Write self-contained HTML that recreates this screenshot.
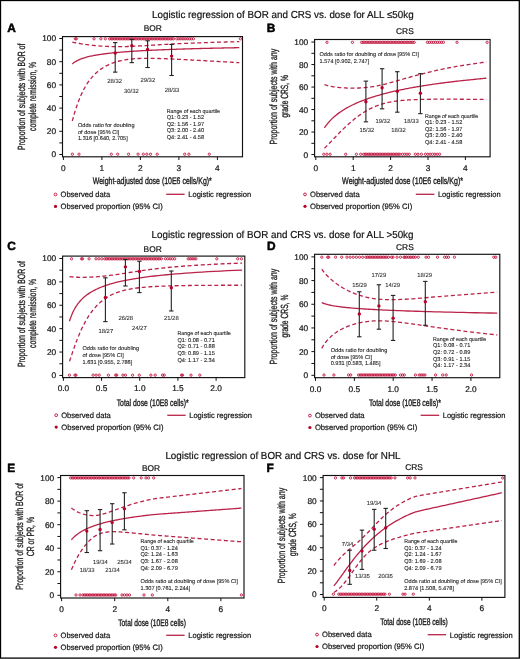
<!DOCTYPE html>
<html><head><meta charset="utf-8"><style>
html,body{margin:0;padding:0;background:#fff;}
#c{position:relative;width:520px;height:659px;overflow:hidden;background:#fff;}
svg{position:absolute;left:0;top:0;font-family:"Liberation Sans", sans-serif;will-change:transform;text-rendering:geometricPrecision;}
</style></head><body><div id="c">
<svg width="520" height="659" viewBox="0 0 520 659">
<rect x="0" y="0" width="520" height="659" fill="#fff"/>
<text x="7.30" y="32.40" font-size="11.9" text-anchor="start" font-weight="bold" fill="#000" stroke="#000" stroke-width="0.5">A</text>
<text x="152.80" y="30.80" font-size="8.4" text-anchor="middle" font-weight="normal" fill="#111" stroke="#111" stroke-width="0.2">BOR</text>
<line x1="59.30" y1="154.50" x2="62.50" y2="154.50" stroke="#111" stroke-width="1.0"/>
<text x="56.10" y="157.45" font-size="8.3" text-anchor="end" font-weight="normal" fill="#111" stroke="#111" stroke-width="0.2">0</text>
<line x1="59.30" y1="142.90" x2="62.50" y2="142.90" stroke="#111" stroke-width="1.0"/>
<line x1="59.30" y1="131.30" x2="62.50" y2="131.30" stroke="#111" stroke-width="1.0"/>
<text x="56.10" y="134.25" font-size="8.3" text-anchor="end" font-weight="normal" fill="#111" stroke="#111" stroke-width="0.2">20</text>
<line x1="59.30" y1="119.70" x2="62.50" y2="119.70" stroke="#111" stroke-width="1.0"/>
<line x1="59.30" y1="108.10" x2="62.50" y2="108.10" stroke="#111" stroke-width="1.0"/>
<text x="56.10" y="111.05" font-size="8.3" text-anchor="end" font-weight="normal" fill="#111" stroke="#111" stroke-width="0.2">40</text>
<line x1="59.30" y1="96.50" x2="62.50" y2="96.50" stroke="#111" stroke-width="1.0"/>
<line x1="59.30" y1="84.90" x2="62.50" y2="84.90" stroke="#111" stroke-width="1.0"/>
<text x="56.10" y="87.85" font-size="8.3" text-anchor="end" font-weight="normal" fill="#111" stroke="#111" stroke-width="0.2">60</text>
<line x1="59.30" y1="73.30" x2="62.50" y2="73.30" stroke="#111" stroke-width="1.0"/>
<line x1="59.30" y1="61.70" x2="62.50" y2="61.70" stroke="#111" stroke-width="1.0"/>
<text x="56.10" y="64.65" font-size="8.3" text-anchor="end" font-weight="normal" fill="#111" stroke="#111" stroke-width="0.2">80</text>
<line x1="59.30" y1="50.10" x2="62.50" y2="50.10" stroke="#111" stroke-width="1.0"/>
<line x1="59.30" y1="38.50" x2="62.50" y2="38.50" stroke="#111" stroke-width="1.0"/>
<text x="56.10" y="41.45" font-size="8.3" text-anchor="end" font-weight="normal" fill="#111" stroke="#111" stroke-width="0.2">100</text>
<line x1="63.40" y1="156.80" x2="63.40" y2="160.00" stroke="#111" stroke-width="1.0"/>
<text x="63.40" y="170.60" font-size="8.3" text-anchor="middle" font-weight="normal" fill="#111" stroke="#111" stroke-width="0.2">0</text>
<line x1="101.90" y1="156.80" x2="101.90" y2="160.00" stroke="#111" stroke-width="1.0"/>
<text x="101.90" y="170.60" font-size="8.3" text-anchor="middle" font-weight="normal" fill="#111" stroke="#111" stroke-width="0.2">1</text>
<line x1="140.40" y1="156.80" x2="140.40" y2="160.00" stroke="#111" stroke-width="1.0"/>
<text x="140.40" y="170.60" font-size="8.3" text-anchor="middle" font-weight="normal" fill="#111" stroke="#111" stroke-width="0.2">2</text>
<line x1="178.90" y1="156.80" x2="178.90" y2="160.00" stroke="#111" stroke-width="1.0"/>
<text x="178.90" y="170.60" font-size="8.3" text-anchor="middle" font-weight="normal" fill="#111" stroke="#111" stroke-width="0.2">3</text>
<line x1="217.40" y1="156.80" x2="217.40" y2="160.00" stroke="#111" stroke-width="1.0"/>
<text x="217.40" y="170.60" font-size="8.3" text-anchor="middle" font-weight="normal" fill="#111" stroke="#111" stroke-width="0.2">4</text>
<rect x="62.50" y="36.60" width="180.00" height="120.20" fill="none" stroke="#111" stroke-width="1.15"/>
<text transform="translate(24.60,96.80) rotate(-90)" x="0" y="0" font-size="10.4" text-anchor="middle" fill="#1a1a1a" stroke="#1a1a1a" stroke-width="0.3" textLength="106.40" lengthAdjust="spacingAndGlyphs">Proportion of subjects with BOR of</text>
<text transform="translate(36.20,96.40) rotate(-90)" x="0" y="0" font-size="10.4" text-anchor="middle" fill="#1a1a1a" stroke="#1a1a1a" stroke-width="0.3" textLength="69.20" lengthAdjust="spacingAndGlyphs">complete remission, %</text>
<text x="152.30" y="184.40" font-size="9.6" text-anchor="middle" font-weight="normal" fill="#1a1a1a" textLength="119.00" lengthAdjust="spacingAndGlyphs" stroke="#1a1a1a" stroke-width="0.35">Weight-adjusted dose (10E6 cells/Kg)*</text>
<circle cx="75.30" cy="38.80" r="1.15" fill="none" stroke="#BF0C38" stroke-width="0.85"/>
<circle cx="76.30" cy="38.80" r="1.15" fill="none" stroke="#BF0C38" stroke-width="0.85"/>
<circle cx="94.00" cy="38.80" r="1.15" fill="none" stroke="#BF0C38" stroke-width="0.85"/>
<circle cx="100.90" cy="38.80" r="1.15" fill="none" stroke="#BF0C38" stroke-width="0.85"/>
<circle cx="105.30" cy="38.80" r="1.15" fill="none" stroke="#BF0C38" stroke-width="0.85"/>
<circle cx="109.60" cy="38.80" r="1.15" fill="none" stroke="#BF0C38" stroke-width="0.85"/>
<circle cx="111.20" cy="38.80" r="1.15" fill="none" stroke="#BF0C38" stroke-width="0.85"/>
<circle cx="112.79" cy="38.80" r="1.15" fill="none" stroke="#BF0C38" stroke-width="0.85"/>
<circle cx="114.39" cy="38.80" r="1.15" fill="none" stroke="#BF0C38" stroke-width="0.85"/>
<circle cx="115.99" cy="38.80" r="1.15" fill="none" stroke="#BF0C38" stroke-width="0.85"/>
<circle cx="117.59" cy="38.80" r="1.15" fill="none" stroke="#BF0C38" stroke-width="0.85"/>
<circle cx="119.19" cy="38.80" r="1.15" fill="none" stroke="#BF0C38" stroke-width="0.85"/>
<circle cx="120.78" cy="38.80" r="1.15" fill="none" stroke="#BF0C38" stroke-width="0.85"/>
<circle cx="122.38" cy="38.80" r="1.15" fill="none" stroke="#BF0C38" stroke-width="0.85"/>
<circle cx="123.98" cy="38.80" r="1.15" fill="none" stroke="#BF0C38" stroke-width="0.85"/>
<circle cx="125.57" cy="38.80" r="1.15" fill="none" stroke="#BF0C38" stroke-width="0.85"/>
<circle cx="127.17" cy="38.80" r="1.15" fill="none" stroke="#BF0C38" stroke-width="0.85"/>
<circle cx="128.77" cy="38.80" r="1.15" fill="none" stroke="#BF0C38" stroke-width="0.85"/>
<circle cx="130.37" cy="38.80" r="1.15" fill="none" stroke="#BF0C38" stroke-width="0.85"/>
<circle cx="131.97" cy="38.80" r="1.15" fill="none" stroke="#BF0C38" stroke-width="0.85"/>
<circle cx="133.56" cy="38.80" r="1.15" fill="none" stroke="#BF0C38" stroke-width="0.85"/>
<circle cx="135.16" cy="38.80" r="1.15" fill="none" stroke="#BF0C38" stroke-width="0.85"/>
<circle cx="136.76" cy="38.80" r="1.15" fill="none" stroke="#BF0C38" stroke-width="0.85"/>
<circle cx="138.35" cy="38.80" r="1.15" fill="none" stroke="#BF0C38" stroke-width="0.85"/>
<circle cx="139.95" cy="38.80" r="1.15" fill="none" stroke="#BF0C38" stroke-width="0.85"/>
<circle cx="141.55" cy="38.80" r="1.15" fill="none" stroke="#BF0C38" stroke-width="0.85"/>
<circle cx="143.15" cy="38.80" r="1.15" fill="none" stroke="#BF0C38" stroke-width="0.85"/>
<circle cx="144.75" cy="38.80" r="1.15" fill="none" stroke="#BF0C38" stroke-width="0.85"/>
<circle cx="146.34" cy="38.80" r="1.15" fill="none" stroke="#BF0C38" stroke-width="0.85"/>
<circle cx="147.94" cy="38.80" r="1.15" fill="none" stroke="#BF0C38" stroke-width="0.85"/>
<circle cx="149.54" cy="38.80" r="1.15" fill="none" stroke="#BF0C38" stroke-width="0.85"/>
<circle cx="151.13" cy="38.80" r="1.15" fill="none" stroke="#BF0C38" stroke-width="0.85"/>
<circle cx="152.73" cy="38.80" r="1.15" fill="none" stroke="#BF0C38" stroke-width="0.85"/>
<circle cx="154.33" cy="38.80" r="1.15" fill="none" stroke="#BF0C38" stroke-width="0.85"/>
<circle cx="155.93" cy="38.80" r="1.15" fill="none" stroke="#BF0C38" stroke-width="0.85"/>
<circle cx="157.53" cy="38.80" r="1.15" fill="none" stroke="#BF0C38" stroke-width="0.85"/>
<circle cx="159.12" cy="38.80" r="1.15" fill="none" stroke="#BF0C38" stroke-width="0.85"/>
<circle cx="160.72" cy="38.80" r="1.15" fill="none" stroke="#BF0C38" stroke-width="0.85"/>
<circle cx="162.32" cy="38.80" r="1.15" fill="none" stroke="#BF0C38" stroke-width="0.85"/>
<circle cx="163.92" cy="38.80" r="1.15" fill="none" stroke="#BF0C38" stroke-width="0.85"/>
<circle cx="165.51" cy="38.80" r="1.15" fill="none" stroke="#BF0C38" stroke-width="0.85"/>
<circle cx="167.11" cy="38.80" r="1.15" fill="none" stroke="#BF0C38" stroke-width="0.85"/>
<circle cx="168.71" cy="38.80" r="1.15" fill="none" stroke="#BF0C38" stroke-width="0.85"/>
<circle cx="170.31" cy="38.80" r="1.15" fill="none" stroke="#BF0C38" stroke-width="0.85"/>
<circle cx="171.90" cy="38.80" r="1.15" fill="none" stroke="#BF0C38" stroke-width="0.85"/>
<circle cx="173.50" cy="38.80" r="1.15" fill="none" stroke="#BF0C38" stroke-width="0.85"/>
<circle cx="176.80" cy="38.80" r="1.15" fill="none" stroke="#BF0C38" stroke-width="0.85"/>
<circle cx="178.88" cy="38.80" r="1.15" fill="none" stroke="#BF0C38" stroke-width="0.85"/>
<circle cx="180.95" cy="38.80" r="1.15" fill="none" stroke="#BF0C38" stroke-width="0.85"/>
<circle cx="183.03" cy="38.80" r="1.15" fill="none" stroke="#BF0C38" stroke-width="0.85"/>
<circle cx="185.10" cy="38.80" r="1.15" fill="none" stroke="#BF0C38" stroke-width="0.85"/>
<circle cx="187.18" cy="38.80" r="1.15" fill="none" stroke="#BF0C38" stroke-width="0.85"/>
<circle cx="189.25" cy="38.80" r="1.15" fill="none" stroke="#BF0C38" stroke-width="0.85"/>
<circle cx="191.33" cy="38.80" r="1.15" fill="none" stroke="#BF0C38" stroke-width="0.85"/>
<circle cx="193.40" cy="38.80" r="1.15" fill="none" stroke="#BF0C38" stroke-width="0.85"/>
<circle cx="240.40" cy="38.80" r="1.15" fill="none" stroke="#BF0C38" stroke-width="0.85"/>
<circle cx="72.40" cy="154.20" r="1.15" fill="none" stroke="#BF0C38" stroke-width="0.85"/>
<circle cx="79.00" cy="154.20" r="1.15" fill="none" stroke="#BF0C38" stroke-width="0.85"/>
<circle cx="111.30" cy="154.20" r="1.15" fill="none" stroke="#BF0C38" stroke-width="0.85"/>
<circle cx="117.70" cy="154.20" r="1.15" fill="none" stroke="#BF0C38" stroke-width="0.85"/>
<circle cx="128.60" cy="154.20" r="1.15" fill="none" stroke="#BF0C38" stroke-width="0.85"/>
<circle cx="138.10" cy="154.20" r="1.15" fill="none" stroke="#BF0C38" stroke-width="0.85"/>
<circle cx="143.30" cy="154.20" r="1.15" fill="none" stroke="#BF0C38" stroke-width="0.85"/>
<circle cx="146.80" cy="154.20" r="1.15" fill="none" stroke="#BF0C38" stroke-width="0.85"/>
<circle cx="150.50" cy="154.20" r="1.15" fill="none" stroke="#BF0C38" stroke-width="0.85"/>
<circle cx="157.20" cy="154.20" r="1.15" fill="none" stroke="#BF0C38" stroke-width="0.85"/>
<circle cx="184.70" cy="154.20" r="1.15" fill="none" stroke="#BF0C38" stroke-width="0.85"/>
<circle cx="188.90" cy="154.20" r="1.15" fill="none" stroke="#BF0C38" stroke-width="0.85"/>
<circle cx="209.30" cy="154.20" r="1.15" fill="none" stroke="#BF0C38" stroke-width="0.85"/>
<path d="M72.3,63.92 L73.3,63.08 L74.3,62.35 L75.3,61.69 L76.3,61.10 L77.3,60.56 L78.3,60.07 L79.3,59.62 L80.3,59.21 L81.3,58.82 L82.3,58.46 L83.3,58.12 L84.3,57.81 L85.3,57.51 L86.3,57.23 L87.3,56.96 L88.3,56.71 L89.3,56.47 L90.3,56.24 L91.3,56.03 L92.3,55.82 L93.3,55.62 L94.3,55.43 L95.3,55.25 L96.3,55.07 L97.3,54.91 L98.3,54.74 L99.3,54.59 L100.3,54.44 L101.3,54.29 L102.3,54.15 L103.3,54.01 L104.3,53.88 L105.3,53.75 L106.3,53.63 L107.3,53.51 L108.3,53.39 L109.3,53.28 L110.3,53.17 L111.3,53.06 L112.3,52.96 L113.3,52.86 L114.3,52.76 L115.3,52.66 L116.3,52.57 L117.3,52.48 L118.3,52.39 L119.3,52.30 L120.3,52.21 L121.3,52.13 L122.3,52.05 L123.3,51.97 L124.3,51.89 L125.3,51.81 L126.3,51.74 L127.3,51.66 L128.3,51.59 L129.3,51.52 L130.3,51.45 L131.3,51.39 L132.3,51.32 L133.3,51.25 L134.3,51.19 L135.3,51.13 L136.3,51.07 L137.3,51.01 L138.3,50.95 L139.3,50.89 L140.3,50.83 L141.3,50.77 L142.3,50.72 L143.3,50.66 L144.3,50.61 L145.3,50.56 L146.3,50.50 L147.3,50.45 L148.3,50.40 L149.3,50.35 L150.3,50.30 L151.3,50.26 L152.3,50.21 L153.3,50.16 L154.3,50.12 L155.3,50.07 L156.3,50.03 L157.3,49.98 L158.3,49.94 L159.3,49.90 L160.3,49.85 L161.3,49.81 L162.3,49.77 L163.3,49.73 L164.3,49.69 L165.3,49.65 L166.3,49.61 L167.3,49.57 L168.3,49.53 L169.3,49.50 L170.3,49.46 L171.3,49.42 L172.3,49.39 L173.3,49.35 L174.3,49.32 L175.3,49.28 L176.3,49.25 L177.3,49.21 L178.3,49.18 L179.3,49.15 L180.3,49.11 L181.3,49.08 L182.3,49.05 L183.3,49.02 L184.3,48.98 L185.3,48.95 L186.3,48.92 L187.3,48.89 L188.3,48.86 L189.3,48.83 L190.3,48.80 L191.3,48.77 L192.3,48.74 L193.3,48.72 L194.3,48.69 L195.3,48.66 L196.3,48.63 L197.3,48.61 L198.3,48.58 L199.3,48.55 L200.3,48.52 L201.3,48.50 L202.3,48.47 L203.3,48.45 L204.3,48.42 L205.3,48.40 L206.3,48.37 L207.3,48.35 L208.3,48.32 L209.3,48.30 L210.3,48.27 L211.3,48.25 L212.3,48.23 L213.3,48.21 L214.3,48.18 L215.3,48.16 L216.3,48.14 L217.3,48.12 L218.3,48.10 L219.3,48.08 L220.3,48.06 L221.3,48.03 L222.3,48.01 L223.3,47.99 L224.3,47.97 L225.3,47.95 L226.3,47.93 L227.3,47.91 L228.3,47.88 L229.3,47.86 L230.3,47.84 L231.3,47.82 L232.3,47.80 L233.3,47.78 L234.3,47.76 L235.3,47.73 L236.3,47.71 L237.3,47.69 L238.3,47.67 L239.3,47.65" fill="none" stroke="#BA2349" stroke-width="1.3"/>
<path d="M72.3,42.10 L73.3,42.33 L74.3,42.55 L75.3,42.76 L76.3,42.96 L77.3,43.15 L78.3,43.33 L79.3,43.51 L80.3,43.68 L81.3,43.85 L82.3,44.00 L83.3,44.16 L84.3,44.30 L85.3,44.45 L86.3,44.58 L87.3,44.71 L88.3,44.84 L89.3,44.96 L90.3,45.08 L91.3,45.19 L92.3,45.30 L93.3,45.41 L94.3,45.51 L95.3,45.61 L96.3,45.70 L97.3,45.79 L98.3,45.87 L99.3,45.95 L100.3,46.03 L101.3,46.10 L102.3,46.16 L103.3,46.23 L104.3,46.29 L105.3,46.34 L106.3,46.39 L107.3,46.44 L108.3,46.48 L109.3,46.52 L110.3,46.55 L111.3,46.58 L112.3,46.61 L113.3,46.63 L114.3,46.65 L115.3,46.66 L116.3,46.67 L117.3,46.67 L118.3,46.67 L119.3,46.67 L120.3,46.66 L121.3,46.65 L122.3,46.64 L123.3,46.62 L124.3,46.60 L125.3,46.57 L126.3,46.54 L127.3,46.51 L128.3,46.48 L129.3,46.44 L130.3,46.40 L131.3,46.36 L132.3,46.31 L133.3,46.27 L134.3,46.22 L135.3,46.17 L136.3,46.12 L137.3,46.07 L138.3,46.01 L139.3,45.96 L140.3,45.90 L141.3,45.84 L142.3,45.78 L143.3,45.72 L144.3,45.66 L145.3,45.60 L146.3,45.54 L147.3,45.48 L148.3,45.42 L149.3,45.36 L150.3,45.30 L151.3,45.23 L152.3,45.17 L153.3,45.11 L154.3,45.05 L155.3,44.99 L156.3,44.93 L157.3,44.87 L158.3,44.81 L159.3,44.75 L160.3,44.69 L161.3,44.63 L162.3,44.57 L163.3,44.51 L164.3,44.46 L165.3,44.40 L166.3,44.34 L167.3,44.29 L168.3,44.23 L169.3,44.18 L170.3,44.12 L171.3,44.07 L172.3,44.02 L173.3,43.97 L174.3,43.91 L175.3,43.86 L176.3,43.81 L177.3,43.76 L178.3,43.71 L179.3,43.66 L180.3,43.62 L181.3,43.57 L182.3,43.52 L183.3,43.48 L184.3,43.43 L185.3,43.39 L186.3,43.34 L187.3,43.30 L188.3,43.25 L189.3,43.21 L190.3,43.17 L191.3,43.13 L192.3,43.09 L193.3,43.05 L194.3,43.01 L195.3,42.97 L196.3,42.93 L197.3,42.89 L198.3,42.85 L199.3,42.82 L200.3,42.78 L201.3,42.74 L202.3,42.71 L203.3,42.67 L204.3,42.64 L205.3,42.60 L206.3,42.57 L207.3,42.54 L208.3,42.50 L209.3,42.47 L210.3,42.44 L211.3,42.41 L212.3,42.38 L213.3,42.35 L214.3,42.33 L215.3,42.30 L216.3,42.27 L217.3,42.24 L218.3,42.22 L219.3,42.19 L220.3,42.16 L221.3,42.13 L222.3,42.11 L223.3,42.08 L224.3,42.05 L225.3,42.02 L226.3,42.00 L227.3,41.97 L228.3,41.94 L229.3,41.92 L230.3,41.89 L231.3,41.86 L232.3,41.83 L233.3,41.81 L234.3,41.78 L235.3,41.75 L236.3,41.73 L237.3,41.70 L238.3,41.67 L239.3,41.64" fill="none" stroke="#BA2349" stroke-width="1.3" stroke-dasharray="4.0,2.6"/>
<path d="M72.3,120.96 L73.3,117.30 L74.3,113.82 L75.3,110.54 L76.3,107.44 L77.3,104.52 L78.3,101.78 L79.3,99.20 L80.3,96.78 L81.3,94.50 L82.3,92.38 L83.3,90.36 L84.3,88.48 L85.3,86.71 L86.3,85.04 L87.3,83.47 L88.3,81.99 L89.3,80.60 L90.3,79.29 L91.3,78.05 L92.3,76.88 L93.3,75.77 L94.3,74.73 L95.3,73.74 L96.3,72.81 L97.3,71.93 L98.3,71.09 L99.3,70.30 L100.3,69.55 L101.3,68.85 L102.3,68.17 L103.3,67.54 L104.3,66.94 L105.3,66.37 L106.3,65.82 L107.3,65.32 L108.3,64.83 L109.3,64.37 L110.3,63.95 L111.3,63.53 L112.3,63.15 L113.3,62.79 L114.3,62.44 L115.3,62.12 L116.3,61.81 L117.3,61.53 L118.3,61.25 L119.3,61.00 L120.3,60.76 L121.3,60.54 L122.3,60.33 L123.3,60.14 L124.3,59.95 L125.3,59.79 L126.3,59.63 L127.3,59.49 L128.3,59.36 L129.3,59.23 L130.3,59.12 L131.3,59.02 L132.3,58.93 L133.3,58.84 L134.3,58.76 L135.3,58.69 L136.3,58.63 L137.3,58.57 L138.3,58.52 L139.3,58.48 L140.3,58.45 L141.3,58.41 L142.3,58.39 L143.3,58.37 L144.3,58.35 L145.3,58.34 L146.3,58.33 L147.3,58.32 L148.3,58.33 L149.3,58.33 L150.3,58.33 L151.3,58.34 L152.3,58.36 L153.3,58.37 L154.3,58.39 L155.3,58.41 L156.3,58.43 L157.3,58.46 L158.3,58.48 L159.3,58.51 L160.3,58.54 L161.3,58.57 L162.3,58.61 L163.3,58.64 L164.3,58.68 L165.3,58.72 L166.3,58.76 L167.3,58.80 L168.3,58.84 L169.3,58.88 L170.3,58.92 L171.3,58.97 L172.3,59.01 L173.3,59.06 L174.3,59.10 L175.3,59.15 L176.3,59.20 L177.3,59.25 L178.3,59.30 L179.3,59.35 L180.3,59.40 L181.3,59.45 L182.3,59.50 L183.3,59.55 L184.3,59.61 L185.3,59.66 L186.3,59.71 L187.3,59.76 L188.3,59.82 L189.3,59.87 L190.3,59.93 L191.3,59.98 L192.3,60.03 L193.3,60.09 L194.3,60.15 L195.3,60.20 L196.3,60.26 L197.3,60.31 L198.3,60.37 L199.3,60.42 L200.3,60.48 L201.3,60.53 L202.3,60.59 L203.3,60.65 L204.3,60.70 L205.3,60.76 L206.3,60.81 L207.3,60.87 L208.3,60.93 L209.3,60.98 L210.3,61.04 L211.3,61.10 L212.3,61.15 L213.3,61.21 L214.3,61.26 L215.3,61.32 L216.3,61.38 L217.3,61.43 L218.3,61.49 L219.3,61.54 L220.3,61.60 L221.3,61.66 L222.3,61.71 L223.3,61.77 L224.3,61.82 L225.3,61.88 L226.3,61.94 L227.3,61.99 L228.3,62.05 L229.3,62.10 L230.3,62.16 L231.3,62.22 L232.3,62.27 L233.3,62.33 L234.3,62.38 L235.3,62.44 L236.3,62.50 L237.3,62.55 L238.3,62.61 L239.3,62.67" fill="none" stroke="#BA2349" stroke-width="1.3" stroke-dasharray="4.0,2.6"/>
<line x1="115.20" y1="42.58" x2="115.20" y2="72.13" stroke="#222" stroke-width="1.1"/>
<line x1="113.00" y1="42.58" x2="117.40" y2="42.58" stroke="#222" stroke-width="1.1"/>
<line x1="113.00" y1="72.13" x2="117.40" y2="72.13" stroke="#222" stroke-width="1.1"/>
<circle cx="115.20" cy="53.00" r="1.7" fill="#B8002A"/>
<line x1="131.80" y1="39.39" x2="131.80" y2="62.64" stroke="#222" stroke-width="1.1"/>
<line x1="129.60" y1="39.39" x2="134.00" y2="39.39" stroke="#222" stroke-width="1.1"/>
<line x1="129.60" y1="62.64" x2="134.00" y2="62.64" stroke="#222" stroke-width="1.1"/>
<circle cx="131.80" cy="45.75" r="1.7" fill="#B8002A"/>
<line x1="147.60" y1="40.79" x2="147.60" y2="67.53" stroke="#222" stroke-width="1.1"/>
<line x1="145.40" y1="40.79" x2="149.80" y2="40.79" stroke="#222" stroke-width="1.1"/>
<line x1="145.40" y1="67.53" x2="149.80" y2="67.53" stroke="#222" stroke-width="1.1"/>
<circle cx="147.60" cy="49.38" r="1.7" fill="#B8002A"/>
<line x1="171.60" y1="44.43" x2="171.60" y2="75.50" stroke="#222" stroke-width="1.1"/>
<line x1="169.40" y1="44.43" x2="173.80" y2="44.43" stroke="#222" stroke-width="1.1"/>
<line x1="169.40" y1="75.50" x2="173.80" y2="75.50" stroke="#222" stroke-width="1.1"/>
<circle cx="171.60" cy="56.08" r="1.7" fill="#B8002A"/>
<text x="114.70" y="83.30" font-size="5.9" text-anchor="middle" font-weight="normal" fill="#2a2a2a" stroke="#2a2a2a" stroke-width="0.08">28/32</text>
<text x="131.40" y="93.10" font-size="5.9" text-anchor="middle" font-weight="normal" fill="#2a2a2a" stroke="#2a2a2a" stroke-width="0.08">30/32</text>
<text x="147.80" y="81.70" font-size="5.9" text-anchor="middle" font-weight="normal" fill="#2a2a2a" stroke="#2a2a2a" stroke-width="0.08">29/32</text>
<text x="172.00" y="92.10" font-size="5.9" text-anchor="middle" font-weight="normal" fill="#2a2a2a" stroke="#2a2a2a" stroke-width="0.08">28/33</text>
<text x="78.00" y="127.40" font-size="5.6" text-anchor="start" font-weight="normal" fill="#222" stroke="#222" stroke-width="0.1">Odds ratio for doubling</text>
<text x="78.00" y="133.90" font-size="5.6" text-anchor="start" font-weight="normal" fill="#222" stroke="#222" stroke-width="0.1">of dose [95% CI]</text>
<text x="78.00" y="140.40" font-size="5.6" text-anchor="start" font-weight="normal" fill="#222" stroke="#222" stroke-width="0.1">1.316 [0.640, 2.705]</text>
<text x="166.70" y="112.60" font-size="5.6" text-anchor="start" font-weight="normal" fill="#222" textLength="53.30" lengthAdjust="spacingAndGlyphs" stroke="#222" stroke-width="0.1">Range of each quartile</text>
<text x="166.70" y="119.20" font-size="5.6" text-anchor="start" font-weight="normal" fill="#222" stroke="#222" stroke-width="0.1">Q1: 0.23 - 1.52</text>
<text x="166.70" y="125.80" font-size="5.6" text-anchor="start" font-weight="normal" fill="#222" stroke="#222" stroke-width="0.1">Q2: 1.56 - 1.97</text>
<text x="166.70" y="132.40" font-size="5.6" text-anchor="start" font-weight="normal" fill="#222" stroke="#222" stroke-width="0.1">Q3: 2.00 - 2.40</text>
<text x="166.70" y="139.00" font-size="5.6" text-anchor="start" font-weight="normal" fill="#222" stroke="#222" stroke-width="0.1">Q4: 2.41 - 4.58</text>
<circle cx="55.50" cy="194.50" r="1.4" fill="none" stroke="#BF0C38" stroke-width="0.9"/>
<text x="60.50" y="197.30" font-size="7.8" text-anchor="start" font-weight="normal" fill="#111" textLength="49.60" lengthAdjust="spacingAndGlyphs" stroke="#111" stroke-width="0.2">Observed data</text>
<circle cx="55.50" cy="206.40" r="1.6" fill="#B8002A"/>
<text x="60.50" y="209.20" font-size="7.8" text-anchor="start" font-weight="normal" fill="#111" textLength="102.30" lengthAdjust="spacingAndGlyphs" stroke="#111" stroke-width="0.2">Observed proportion (95% CI)</text>
<line x1="166.20" y1="194.30" x2="184.60" y2="194.30" stroke="#BA2349" stroke-width="1.3"/>
<text x="188.30" y="197.10" font-size="7.8" text-anchor="start" font-weight="normal" fill="#111" textLength="62.80" lengthAdjust="spacingAndGlyphs" stroke="#111" stroke-width="0.2">Logistic regression</text>
<text x="266.80" y="32.40" font-size="11.9" text-anchor="start" font-weight="bold" fill="#000" stroke="#000" stroke-width="0.5">B</text>
<text x="404.90" y="34.15" font-size="8.4" text-anchor="middle" font-weight="normal" fill="#111" stroke="#111" stroke-width="0.2">CRS</text>
<line x1="311.40" y1="154.55" x2="314.60" y2="154.55" stroke="#111" stroke-width="1.0"/>
<text x="308.20" y="157.50" font-size="8.3" text-anchor="end" font-weight="normal" fill="#111" stroke="#111" stroke-width="0.2">0</text>
<line x1="311.40" y1="143.30" x2="314.60" y2="143.30" stroke="#111" stroke-width="1.0"/>
<line x1="311.40" y1="132.05" x2="314.60" y2="132.05" stroke="#111" stroke-width="1.0"/>
<text x="308.20" y="135.00" font-size="8.3" text-anchor="end" font-weight="normal" fill="#111" stroke="#111" stroke-width="0.2">20</text>
<line x1="311.40" y1="120.80" x2="314.60" y2="120.80" stroke="#111" stroke-width="1.0"/>
<line x1="311.40" y1="109.55" x2="314.60" y2="109.55" stroke="#111" stroke-width="1.0"/>
<text x="308.20" y="112.50" font-size="8.3" text-anchor="end" font-weight="normal" fill="#111" stroke="#111" stroke-width="0.2">40</text>
<line x1="311.40" y1="98.30" x2="314.60" y2="98.30" stroke="#111" stroke-width="1.0"/>
<line x1="311.40" y1="87.05" x2="314.60" y2="87.05" stroke="#111" stroke-width="1.0"/>
<text x="308.20" y="90.00" font-size="8.3" text-anchor="end" font-weight="normal" fill="#111" stroke="#111" stroke-width="0.2">60</text>
<line x1="311.40" y1="75.80" x2="314.60" y2="75.80" stroke="#111" stroke-width="1.0"/>
<line x1="311.40" y1="64.55" x2="314.60" y2="64.55" stroke="#111" stroke-width="1.0"/>
<text x="308.20" y="67.50" font-size="8.3" text-anchor="end" font-weight="normal" fill="#111" stroke="#111" stroke-width="0.2">80</text>
<line x1="311.40" y1="53.30" x2="314.60" y2="53.30" stroke="#111" stroke-width="1.0"/>
<line x1="311.40" y1="42.05" x2="314.60" y2="42.05" stroke="#111" stroke-width="1.0"/>
<text x="308.20" y="45.00" font-size="8.3" text-anchor="end" font-weight="normal" fill="#111" stroke="#111" stroke-width="0.2">100</text>
<line x1="315.80" y1="156.80" x2="315.80" y2="160.00" stroke="#111" stroke-width="1.0"/>
<text x="315.80" y="170.60" font-size="8.3" text-anchor="middle" font-weight="normal" fill="#111" stroke="#111" stroke-width="0.2">0</text>
<line x1="353.20" y1="156.80" x2="353.20" y2="160.00" stroke="#111" stroke-width="1.0"/>
<text x="353.20" y="170.60" font-size="8.3" text-anchor="middle" font-weight="normal" fill="#111" stroke="#111" stroke-width="0.2">1</text>
<line x1="390.60" y1="156.80" x2="390.60" y2="160.00" stroke="#111" stroke-width="1.0"/>
<text x="390.60" y="170.60" font-size="8.3" text-anchor="middle" font-weight="normal" fill="#111" stroke="#111" stroke-width="0.2">2</text>
<line x1="428.00" y1="156.80" x2="428.00" y2="160.00" stroke="#111" stroke-width="1.0"/>
<text x="428.00" y="170.60" font-size="8.3" text-anchor="middle" font-weight="normal" fill="#111" stroke="#111" stroke-width="0.2">3</text>
<line x1="465.40" y1="156.80" x2="465.40" y2="160.00" stroke="#111" stroke-width="1.0"/>
<text x="465.40" y="170.60" font-size="8.3" text-anchor="middle" font-weight="normal" fill="#111" stroke="#111" stroke-width="0.2">4</text>
<rect x="314.60" y="39.50" width="175.50" height="117.30" fill="none" stroke="#111" stroke-width="1.15"/>
<text transform="translate(276.70,96.60) rotate(-90)" x="0" y="0" font-size="10.4" text-anchor="middle" fill="#1a1a1a" stroke="#1a1a1a" stroke-width="0.3" textLength="95.60" lengthAdjust="spacingAndGlyphs">Proportion of subjects with any</text>
<text transform="translate(287.70,96.40) rotate(-90)" x="0" y="0" font-size="10.4" text-anchor="middle" fill="#1a1a1a" stroke="#1a1a1a" stroke-width="0.3" textLength="42.40" lengthAdjust="spacingAndGlyphs">grade CRS, %</text>
<text x="402.60" y="184.20" font-size="9.6" text-anchor="middle" font-weight="normal" fill="#1a1a1a" textLength="121.00" lengthAdjust="spacingAndGlyphs" stroke="#1a1a1a" stroke-width="0.35">Weight-adjusted dose (10E6 cells/Kg)*</text>
<circle cx="327.00" cy="42.35" r="1.15" fill="none" stroke="#BF0C38" stroke-width="0.85"/>
<circle cx="352.40" cy="42.35" r="1.15" fill="none" stroke="#BF0C38" stroke-width="0.85"/>
<circle cx="361.60" cy="42.35" r="1.15" fill="none" stroke="#BF0C38" stroke-width="0.85"/>
<circle cx="363.19" cy="42.35" r="1.15" fill="none" stroke="#BF0C38" stroke-width="0.85"/>
<circle cx="364.79" cy="42.35" r="1.15" fill="none" stroke="#BF0C38" stroke-width="0.85"/>
<circle cx="366.38" cy="42.35" r="1.15" fill="none" stroke="#BF0C38" stroke-width="0.85"/>
<circle cx="367.98" cy="42.35" r="1.15" fill="none" stroke="#BF0C38" stroke-width="0.85"/>
<circle cx="369.57" cy="42.35" r="1.15" fill="none" stroke="#BF0C38" stroke-width="0.85"/>
<circle cx="371.16" cy="42.35" r="1.15" fill="none" stroke="#BF0C38" stroke-width="0.85"/>
<circle cx="372.76" cy="42.35" r="1.15" fill="none" stroke="#BF0C38" stroke-width="0.85"/>
<circle cx="374.35" cy="42.35" r="1.15" fill="none" stroke="#BF0C38" stroke-width="0.85"/>
<circle cx="375.95" cy="42.35" r="1.15" fill="none" stroke="#BF0C38" stroke-width="0.85"/>
<circle cx="377.54" cy="42.35" r="1.15" fill="none" stroke="#BF0C38" stroke-width="0.85"/>
<circle cx="379.13" cy="42.35" r="1.15" fill="none" stroke="#BF0C38" stroke-width="0.85"/>
<circle cx="380.73" cy="42.35" r="1.15" fill="none" stroke="#BF0C38" stroke-width="0.85"/>
<circle cx="382.32" cy="42.35" r="1.15" fill="none" stroke="#BF0C38" stroke-width="0.85"/>
<circle cx="383.92" cy="42.35" r="1.15" fill="none" stroke="#BF0C38" stroke-width="0.85"/>
<circle cx="385.51" cy="42.35" r="1.15" fill="none" stroke="#BF0C38" stroke-width="0.85"/>
<circle cx="387.10" cy="42.35" r="1.15" fill="none" stroke="#BF0C38" stroke-width="0.85"/>
<circle cx="388.70" cy="42.35" r="1.15" fill="none" stroke="#BF0C38" stroke-width="0.85"/>
<circle cx="390.29" cy="42.35" r="1.15" fill="none" stroke="#BF0C38" stroke-width="0.85"/>
<circle cx="391.88" cy="42.35" r="1.15" fill="none" stroke="#BF0C38" stroke-width="0.85"/>
<circle cx="393.48" cy="42.35" r="1.15" fill="none" stroke="#BF0C38" stroke-width="0.85"/>
<circle cx="395.07" cy="42.35" r="1.15" fill="none" stroke="#BF0C38" stroke-width="0.85"/>
<circle cx="396.67" cy="42.35" r="1.15" fill="none" stroke="#BF0C38" stroke-width="0.85"/>
<circle cx="398.26" cy="42.35" r="1.15" fill="none" stroke="#BF0C38" stroke-width="0.85"/>
<circle cx="399.85" cy="42.35" r="1.15" fill="none" stroke="#BF0C38" stroke-width="0.85"/>
<circle cx="401.45" cy="42.35" r="1.15" fill="none" stroke="#BF0C38" stroke-width="0.85"/>
<circle cx="403.04" cy="42.35" r="1.15" fill="none" stroke="#BF0C38" stroke-width="0.85"/>
<circle cx="404.64" cy="42.35" r="1.15" fill="none" stroke="#BF0C38" stroke-width="0.85"/>
<circle cx="406.23" cy="42.35" r="1.15" fill="none" stroke="#BF0C38" stroke-width="0.85"/>
<circle cx="407.82" cy="42.35" r="1.15" fill="none" stroke="#BF0C38" stroke-width="0.85"/>
<circle cx="409.42" cy="42.35" r="1.15" fill="none" stroke="#BF0C38" stroke-width="0.85"/>
<circle cx="411.01" cy="42.35" r="1.15" fill="none" stroke="#BF0C38" stroke-width="0.85"/>
<circle cx="412.61" cy="42.35" r="1.15" fill="none" stroke="#BF0C38" stroke-width="0.85"/>
<circle cx="414.20" cy="42.35" r="1.15" fill="none" stroke="#BF0C38" stroke-width="0.85"/>
<circle cx="427.40" cy="42.35" r="1.15" fill="none" stroke="#BF0C38" stroke-width="0.85"/>
<circle cx="429.40" cy="42.35" r="1.15" fill="none" stroke="#BF0C38" stroke-width="0.85"/>
<circle cx="431.40" cy="42.35" r="1.15" fill="none" stroke="#BF0C38" stroke-width="0.85"/>
<circle cx="433.40" cy="42.35" r="1.15" fill="none" stroke="#BF0C38" stroke-width="0.85"/>
<circle cx="435.40" cy="42.35" r="1.15" fill="none" stroke="#BF0C38" stroke-width="0.85"/>
<circle cx="437.40" cy="42.35" r="1.15" fill="none" stroke="#BF0C38" stroke-width="0.85"/>
<circle cx="439.40" cy="42.35" r="1.15" fill="none" stroke="#BF0C38" stroke-width="0.85"/>
<circle cx="441.40" cy="42.35" r="1.15" fill="none" stroke="#BF0C38" stroke-width="0.85"/>
<circle cx="443.40" cy="42.35" r="1.15" fill="none" stroke="#BF0C38" stroke-width="0.85"/>
<circle cx="457.00" cy="42.35" r="1.15" fill="none" stroke="#BF0C38" stroke-width="0.85"/>
<circle cx="487.10" cy="42.35" r="1.15" fill="none" stroke="#BF0C38" stroke-width="0.85"/>
<circle cx="323.80" cy="154.25" r="1.15" fill="none" stroke="#BF0C38" stroke-width="0.85"/>
<circle cx="326.90" cy="154.25" r="1.15" fill="none" stroke="#BF0C38" stroke-width="0.85"/>
<circle cx="330.10" cy="154.25" r="1.15" fill="none" stroke="#BF0C38" stroke-width="0.85"/>
<circle cx="345.70" cy="154.25" r="1.15" fill="none" stroke="#BF0C38" stroke-width="0.85"/>
<circle cx="356.40" cy="154.25" r="1.15" fill="none" stroke="#BF0C38" stroke-width="0.85"/>
<circle cx="360.70" cy="154.25" r="1.15" fill="none" stroke="#BF0C38" stroke-width="0.85"/>
<circle cx="363.60" cy="154.25" r="1.15" fill="none" stroke="#BF0C38" stroke-width="0.85"/>
<circle cx="365.17" cy="154.25" r="1.15" fill="none" stroke="#BF0C38" stroke-width="0.85"/>
<circle cx="366.75" cy="154.25" r="1.15" fill="none" stroke="#BF0C38" stroke-width="0.85"/>
<circle cx="368.32" cy="154.25" r="1.15" fill="none" stroke="#BF0C38" stroke-width="0.85"/>
<circle cx="369.90" cy="154.25" r="1.15" fill="none" stroke="#BF0C38" stroke-width="0.85"/>
<circle cx="371.47" cy="154.25" r="1.15" fill="none" stroke="#BF0C38" stroke-width="0.85"/>
<circle cx="373.04" cy="154.25" r="1.15" fill="none" stroke="#BF0C38" stroke-width="0.85"/>
<circle cx="374.62" cy="154.25" r="1.15" fill="none" stroke="#BF0C38" stroke-width="0.85"/>
<circle cx="376.19" cy="154.25" r="1.15" fill="none" stroke="#BF0C38" stroke-width="0.85"/>
<circle cx="377.77" cy="154.25" r="1.15" fill="none" stroke="#BF0C38" stroke-width="0.85"/>
<circle cx="379.34" cy="154.25" r="1.15" fill="none" stroke="#BF0C38" stroke-width="0.85"/>
<circle cx="380.91" cy="154.25" r="1.15" fill="none" stroke="#BF0C38" stroke-width="0.85"/>
<circle cx="382.49" cy="154.25" r="1.15" fill="none" stroke="#BF0C38" stroke-width="0.85"/>
<circle cx="384.06" cy="154.25" r="1.15" fill="none" stroke="#BF0C38" stroke-width="0.85"/>
<circle cx="385.63" cy="154.25" r="1.15" fill="none" stroke="#BF0C38" stroke-width="0.85"/>
<circle cx="387.21" cy="154.25" r="1.15" fill="none" stroke="#BF0C38" stroke-width="0.85"/>
<circle cx="388.78" cy="154.25" r="1.15" fill="none" stroke="#BF0C38" stroke-width="0.85"/>
<circle cx="390.36" cy="154.25" r="1.15" fill="none" stroke="#BF0C38" stroke-width="0.85"/>
<circle cx="391.93" cy="154.25" r="1.15" fill="none" stroke="#BF0C38" stroke-width="0.85"/>
<circle cx="393.50" cy="154.25" r="1.15" fill="none" stroke="#BF0C38" stroke-width="0.85"/>
<circle cx="395.08" cy="154.25" r="1.15" fill="none" stroke="#BF0C38" stroke-width="0.85"/>
<circle cx="396.65" cy="154.25" r="1.15" fill="none" stroke="#BF0C38" stroke-width="0.85"/>
<circle cx="398.23" cy="154.25" r="1.15" fill="none" stroke="#BF0C38" stroke-width="0.85"/>
<circle cx="399.80" cy="154.25" r="1.15" fill="none" stroke="#BF0C38" stroke-width="0.85"/>
<circle cx="402.40" cy="154.25" r="1.15" fill="none" stroke="#BF0C38" stroke-width="0.85"/>
<circle cx="404.70" cy="154.25" r="1.15" fill="none" stroke="#BF0C38" stroke-width="0.85"/>
<circle cx="407.00" cy="154.25" r="1.15" fill="none" stroke="#BF0C38" stroke-width="0.85"/>
<circle cx="409.30" cy="154.25" r="1.15" fill="none" stroke="#BF0C38" stroke-width="0.85"/>
<circle cx="415.40" cy="154.25" r="1.15" fill="none" stroke="#BF0C38" stroke-width="0.85"/>
<circle cx="418.00" cy="154.25" r="1.15" fill="none" stroke="#BF0C38" stroke-width="0.85"/>
<circle cx="421.40" cy="154.25" r="1.15" fill="none" stroke="#BF0C38" stroke-width="0.85"/>
<circle cx="425.40" cy="154.25" r="1.15" fill="none" stroke="#BF0C38" stroke-width="0.85"/>
<circle cx="427.77" cy="154.25" r="1.15" fill="none" stroke="#BF0C38" stroke-width="0.85"/>
<circle cx="430.13" cy="154.25" r="1.15" fill="none" stroke="#BF0C38" stroke-width="0.85"/>
<circle cx="432.50" cy="154.25" r="1.15" fill="none" stroke="#BF0C38" stroke-width="0.85"/>
<circle cx="434.87" cy="154.25" r="1.15" fill="none" stroke="#BF0C38" stroke-width="0.85"/>
<circle cx="437.23" cy="154.25" r="1.15" fill="none" stroke="#BF0C38" stroke-width="0.85"/>
<circle cx="439.60" cy="154.25" r="1.15" fill="none" stroke="#BF0C38" stroke-width="0.85"/>
<path d="M324.4,127.90 L325.4,126.43 L326.4,125.07 L327.4,123.79 L328.4,122.59 L329.4,121.45 L330.4,120.38 L331.4,119.36 L332.4,118.39 L333.4,117.46 L334.4,116.57 L335.4,115.72 L336.4,114.90 L337.4,114.12 L338.4,113.36 L339.4,112.63 L340.4,111.93 L341.4,111.25 L342.4,110.59 L343.4,109.95 L344.4,109.34 L345.4,108.74 L346.4,108.16 L347.4,107.59 L348.4,107.04 L349.4,106.51 L350.4,105.99 L351.4,105.48 L352.4,104.99 L353.4,104.51 L354.4,104.04 L355.4,103.58 L356.4,103.14 L357.4,102.70 L358.4,102.27 L359.4,101.86 L360.4,101.45 L361.4,101.05 L362.4,100.66 L363.4,100.27 L364.4,99.90 L365.4,99.53 L366.4,99.17 L367.4,98.81 L368.4,98.47 L369.4,98.13 L370.4,97.79 L371.4,97.47 L372.4,97.14 L373.4,96.83 L374.4,96.52 L375.4,96.21 L376.4,95.91 L377.4,95.61 L378.4,95.33 L379.4,95.04 L380.4,94.76 L381.4,94.48 L382.4,94.21 L383.4,93.94 L384.4,93.68 L385.4,93.42 L386.4,93.16 L387.4,92.91 L388.4,92.66 L389.4,92.42 L390.4,92.18 L391.4,91.94 L392.4,91.71 L393.4,91.47 L394.4,91.24 L395.4,91.02 L396.4,90.80 L397.4,90.58 L398.4,90.37 L399.4,90.15 L400.4,89.94 L401.4,89.73 L402.4,89.53 L403.4,89.33 L404.4,89.13 L405.4,88.93 L406.4,88.73 L407.4,88.54 L408.4,88.35 L409.4,88.16 L410.4,87.98 L411.4,87.79 L412.4,87.61 L413.4,87.43 L414.4,87.26 L415.4,87.08 L416.4,86.91 L417.4,86.74 L418.4,86.57 L419.4,86.40 L420.4,86.23 L421.4,86.07 L422.4,85.91 L423.4,85.75 L424.4,85.59 L425.4,85.43 L426.4,85.28 L427.4,85.12 L428.4,84.97 L429.4,84.82 L430.4,84.67 L431.4,84.52 L432.4,84.38 L433.4,84.23 L434.4,84.09 L435.4,83.94 L436.4,83.81 L437.4,83.67 L438.4,83.53 L439.4,83.39 L440.4,83.26 L441.4,83.12 L442.4,83.00 L443.4,82.87 L444.4,82.74 L445.4,82.61 L446.4,82.48 L447.4,82.35 L448.4,82.23 L449.4,82.10 L450.4,81.98 L451.4,81.86 L452.4,81.74 L453.4,81.62 L454.4,81.50 L455.4,81.38 L456.4,81.27 L457.4,81.15 L458.4,81.04 L459.4,80.93 L460.4,80.83 L461.4,80.72 L462.4,80.62 L463.4,80.51 L464.4,80.41 L465.4,80.30 L466.4,80.20 L467.4,80.10 L468.4,79.99 L469.4,79.89 L470.4,79.79 L471.4,79.69 L472.4,79.58 L473.4,79.48 L474.4,79.38 L475.4,79.27 L476.4,79.17 L477.4,79.07 L478.4,78.97 L479.4,78.86 L480.4,78.76 L481.4,78.66 L482.4,78.56 L483.4,78.45 L484.4,78.35 L485.4,78.25 L486.4,78.14" fill="none" stroke="#BA2349" stroke-width="1.3"/>
<path d="M324.4,84.54 L325.4,84.90 L326.4,85.22 L327.4,85.51 L328.4,85.77 L329.4,86.01 L330.4,86.23 L331.4,86.43 L332.4,86.61 L333.4,86.78 L334.4,86.93 L335.4,87.07 L336.4,87.20 L337.4,87.32 L338.4,87.43 L339.4,87.53 L340.4,87.62 L341.4,87.71 L342.4,87.78 L343.4,87.85 L344.4,87.91 L345.4,87.96 L346.4,88.01 L347.4,88.05 L348.4,88.08 L349.4,88.10 L350.4,88.12 L351.4,88.13 L352.4,88.14 L353.4,88.14 L354.4,88.13 L355.4,88.11 L356.4,88.09 L357.4,88.06 L358.4,88.02 L359.4,87.98 L360.4,87.93 L361.4,87.86 L362.4,87.80 L363.4,87.72 L364.4,87.64 L365.4,87.55 L366.4,87.45 L367.4,87.35 L368.4,87.23 L369.4,87.11 L370.4,86.97 L371.4,86.83 L372.4,86.68 L373.4,86.52 L374.4,86.36 L375.4,86.18 L376.4,86.00 L377.4,85.81 L378.4,85.61 L379.4,85.40 L380.4,85.19 L381.4,84.97 L382.4,84.74 L383.4,84.50 L384.4,84.26 L385.4,84.01 L386.4,83.76 L387.4,83.50 L388.4,83.24 L389.4,82.97 L390.4,82.70 L391.4,82.43 L392.4,82.15 L393.4,81.87 L394.4,81.59 L395.4,81.31 L396.4,81.02 L397.4,80.73 L398.4,80.44 L399.4,80.16 L400.4,79.87 L401.4,79.58 L402.4,79.29 L403.4,79.00 L404.4,78.71 L405.4,78.42 L406.4,78.14 L407.4,77.85 L408.4,77.57 L409.4,77.28 L410.4,77.00 L411.4,76.72 L412.4,76.44 L413.4,76.17 L414.4,75.89 L415.4,75.62 L416.4,75.35 L417.4,75.08 L418.4,74.82 L419.4,74.55 L420.4,74.29 L421.4,74.03 L422.4,73.78 L423.4,73.52 L424.4,73.27 L425.4,73.02 L426.4,72.77 L427.4,72.53 L428.4,72.29 L429.4,72.05 L430.4,71.81 L431.4,71.57 L432.4,71.34 L433.4,71.11 L434.4,70.88 L435.4,70.66 L436.4,70.44 L437.4,70.22 L438.4,70.00 L439.4,69.78 L440.4,69.57 L441.4,69.36 L442.4,69.16 L443.4,68.96 L444.4,68.75 L445.4,68.55 L446.4,68.35 L447.4,68.15 L448.4,67.96 L449.4,67.76 L450.4,67.57 L451.4,67.38 L452.4,67.20 L453.4,67.01 L454.4,66.83 L455.4,66.66 L456.4,66.48 L457.4,66.31 L458.4,66.15 L459.4,65.98 L460.4,65.82 L461.4,65.67 L462.4,65.51 L463.4,65.36 L464.4,65.21 L465.4,65.05 L466.4,64.90 L467.4,64.75 L468.4,64.60 L469.4,64.45 L470.4,64.30 L471.4,64.15 L472.4,64.00 L473.4,63.85 L474.4,63.70 L475.4,63.55 L476.4,63.40 L477.4,63.25 L478.4,63.10 L479.4,62.95 L480.4,62.80 L481.4,62.65 L482.4,62.50 L483.4,62.35 L484.4,62.20 L485.4,62.05 L486.4,61.90" fill="none" stroke="#BA2349" stroke-width="1.3" stroke-dasharray="4.0,2.6"/>
<path d="M324.4,148.33 L325.4,147.36 L326.4,146.36 L327.4,145.34 L328.4,144.31 L329.4,143.27 L330.4,142.22 L331.4,141.17 L332.4,140.11 L333.4,139.06 L334.4,138.01 L335.4,136.96 L336.4,135.91 L337.4,134.87 L338.4,133.84 L339.4,132.82 L340.4,131.81 L341.4,130.81 L342.4,129.82 L343.4,128.84 L344.4,127.88 L345.4,126.93 L346.4,125.99 L347.4,125.07 L348.4,124.17 L349.4,123.28 L350.4,122.41 L351.4,121.55 L352.4,120.71 L353.4,119.88 L354.4,119.08 L355.4,118.29 L356.4,117.52 L357.4,116.76 L358.4,116.03 L359.4,115.31 L360.4,114.61 L361.4,113.93 L362.4,113.27 L363.4,112.63 L364.4,112.00 L365.4,111.39 L366.4,110.81 L367.4,110.24 L368.4,109.69 L369.4,109.16 L370.4,108.65 L371.4,108.16 L372.4,107.69 L373.4,107.23 L374.4,106.79 L375.4,106.37 L376.4,105.97 L377.4,105.59 L378.4,105.22 L379.4,104.87 L380.4,104.54 L381.4,104.22 L382.4,103.92 L383.4,103.63 L384.4,103.36 L385.4,103.11 L386.4,102.86 L387.4,102.64 L388.4,102.41 L389.4,102.21 L390.4,102.02 L391.4,101.83 L392.4,101.66 L393.4,101.50 L394.4,101.34 L395.4,101.20 L396.4,101.06 L397.4,100.94 L398.4,100.82 L399.4,100.70 L400.4,100.60 L401.4,100.50 L402.4,100.40 L403.4,100.31 L404.4,100.23 L405.4,100.15 L406.4,100.08 L407.4,100.02 L408.4,99.95 L409.4,99.89 L410.4,99.84 L411.4,99.78 L412.4,99.73 L413.4,99.69 L414.4,99.64 L415.4,99.60 L416.4,99.56 L417.4,99.53 L418.4,99.50 L419.4,99.46 L420.4,99.44 L421.4,99.41 L422.4,99.39 L423.4,99.36 L424.4,99.34 L425.4,99.32 L426.4,99.31 L427.4,99.29 L428.4,99.28 L429.4,99.26 L430.4,99.25 L431.4,99.24 L432.4,99.23 L433.4,99.22 L434.4,99.21 L435.4,99.20 L436.4,99.20 L437.4,99.19 L438.4,99.19 L439.4,99.18 L440.4,99.18 L441.4,99.18 L442.4,99.18 L443.4,99.18 L444.4,99.18 L445.4,99.18 L446.4,99.18 L447.4,99.18 L448.4,99.18 L449.4,99.18 L450.4,99.19 L451.4,99.19 L452.4,99.19 L453.4,99.20 L454.4,99.20 L455.4,99.21 L456.4,99.21 L457.4,99.22 L458.4,99.22 L459.4,99.23 L460.4,99.24 L461.4,99.25 L462.4,99.25 L463.4,99.26 L464.4,99.27 L465.4,99.28 L466.4,99.29 L467.4,99.30 L468.4,99.30 L469.4,99.31 L470.4,99.32 L471.4,99.33 L472.4,99.34 L473.4,99.35 L474.4,99.36 L475.4,99.37 L476.4,99.37 L477.4,99.38 L478.4,99.39 L479.4,99.40 L480.4,99.41 L481.4,99.42 L482.4,99.43 L483.4,99.43 L484.4,99.44 L485.4,99.45 L486.4,99.46" fill="none" stroke="#BA2349" stroke-width="1.3" stroke-dasharray="4.0,2.6"/>
<line x1="365.90" y1="81.14" x2="365.90" y2="121.82" stroke="#222" stroke-width="1.1"/>
<line x1="363.70" y1="81.14" x2="368.10" y2="81.14" stroke="#222" stroke-width="1.1"/>
<line x1="363.70" y1="121.82" x2="368.10" y2="121.82" stroke="#222" stroke-width="1.1"/>
<circle cx="365.90" cy="101.82" r="1.7" fill="#B8002A"/>
<line x1="382.10" y1="68.71" x2="382.10" y2="108.82" stroke="#222" stroke-width="1.1"/>
<line x1="379.90" y1="68.71" x2="384.30" y2="68.71" stroke="#222" stroke-width="1.1"/>
<line x1="379.90" y1="108.82" x2="384.30" y2="108.82" stroke="#222" stroke-width="1.1"/>
<circle cx="382.10" cy="87.75" r="1.7" fill="#B8002A"/>
<line x1="397.30" y1="71.71" x2="397.30" y2="112.18" stroke="#222" stroke-width="1.1"/>
<line x1="395.10" y1="71.71" x2="399.50" y2="71.71" stroke="#222" stroke-width="1.1"/>
<line x1="395.10" y1="112.18" x2="399.50" y2="112.18" stroke="#222" stroke-width="1.1"/>
<circle cx="397.30" cy="91.27" r="1.7" fill="#B8002A"/>
<line x1="420.40" y1="73.67" x2="420.40" y2="113.66" stroke="#222" stroke-width="1.1"/>
<line x1="418.20" y1="73.67" x2="422.60" y2="73.67" stroke="#222" stroke-width="1.1"/>
<line x1="418.20" y1="113.66" x2="422.60" y2="113.66" stroke="#222" stroke-width="1.1"/>
<circle cx="420.40" cy="93.19" r="1.7" fill="#B8002A"/>
<text x="366.90" y="132.10" font-size="5.9" text-anchor="middle" font-weight="normal" fill="#2a2a2a" stroke="#2a2a2a" stroke-width="0.08">15/32</text>
<text x="382.80" y="123.20" font-size="5.9" text-anchor="middle" font-weight="normal" fill="#2a2a2a" stroke="#2a2a2a" stroke-width="0.08">19/32</text>
<text x="398.50" y="132.10" font-size="5.9" text-anchor="middle" font-weight="normal" fill="#2a2a2a" stroke="#2a2a2a" stroke-width="0.08">18/32</text>
<text x="411.30" y="123.20" font-size="5.9" text-anchor="middle" font-weight="normal" fill="#2a2a2a" stroke="#2a2a2a" stroke-width="0.08">18/33</text>
<text x="319.50" y="56.00" font-size="5.6" text-anchor="start" font-weight="normal" fill="#222" stroke="#222" stroke-width="0.1">Odds ratio for doubling of dose [95% CI]</text>
<text x="319.50" y="62.50" font-size="5.6" text-anchor="start" font-weight="normal" fill="#222" stroke="#222" stroke-width="0.1">1.574 [0.902, 2.747]</text>
<text x="425.00" y="117.90" font-size="5.6" text-anchor="start" font-weight="normal" fill="#222" textLength="53.30" lengthAdjust="spacingAndGlyphs" stroke="#222" stroke-width="0.1">Range of each quartile</text>
<text x="425.00" y="124.40" font-size="5.6" text-anchor="start" font-weight="normal" fill="#222" stroke="#222" stroke-width="0.1">Q1: 0.23 - 1.52</text>
<text x="425.00" y="130.90" font-size="5.6" text-anchor="start" font-weight="normal" fill="#222" stroke="#222" stroke-width="0.1">Q2: 1.56 - 1.97</text>
<text x="425.00" y="137.40" font-size="5.6" text-anchor="start" font-weight="normal" fill="#222" stroke="#222" stroke-width="0.1">Q3: 2.00 - 2.40</text>
<text x="425.00" y="143.90" font-size="5.6" text-anchor="start" font-weight="normal" fill="#222" stroke="#222" stroke-width="0.1">Q4: 2.41 - 4.58</text>
<circle cx="305.00" cy="194.40" r="1.4" fill="none" stroke="#BF0C38" stroke-width="0.9"/>
<text x="310.00" y="197.20" font-size="7.8" text-anchor="start" font-weight="normal" fill="#111" textLength="49.60" lengthAdjust="spacingAndGlyphs" stroke="#111" stroke-width="0.2">Observed data</text>
<circle cx="305.00" cy="206.30" r="1.6" fill="#B8002A"/>
<text x="310.00" y="209.10" font-size="7.8" text-anchor="start" font-weight="normal" fill="#111" textLength="102.30" lengthAdjust="spacingAndGlyphs" stroke="#111" stroke-width="0.2">Observed proportion (95% CI)</text>
<line x1="415.80" y1="194.30" x2="434.40" y2="194.30" stroke="#BA2349" stroke-width="1.3"/>
<text x="437.90" y="197.10" font-size="7.8" text-anchor="start" font-weight="normal" fill="#111" textLength="62.80" lengthAdjust="spacingAndGlyphs" stroke="#111" stroke-width="0.2">Logistic regression</text>
<text x="7.30" y="250.30" font-size="11.9" text-anchor="start" font-weight="bold" fill="#000" stroke="#000" stroke-width="0.5">C</text>
<text x="152.70" y="251.90" font-size="8.4" text-anchor="middle" font-weight="normal" fill="#111" stroke="#111" stroke-width="0.2">BOR</text>
<line x1="59.40" y1="375.45" x2="62.60" y2="375.45" stroke="#111" stroke-width="1.0"/>
<text x="56.20" y="378.40" font-size="8.3" text-anchor="end" font-weight="normal" fill="#111" stroke="#111" stroke-width="0.2">0</text>
<line x1="59.40" y1="363.75" x2="62.60" y2="363.75" stroke="#111" stroke-width="1.0"/>
<line x1="59.40" y1="352.06" x2="62.60" y2="352.06" stroke="#111" stroke-width="1.0"/>
<text x="56.20" y="355.01" font-size="8.3" text-anchor="end" font-weight="normal" fill="#111" stroke="#111" stroke-width="0.2">20</text>
<line x1="59.40" y1="340.37" x2="62.60" y2="340.37" stroke="#111" stroke-width="1.0"/>
<line x1="59.40" y1="328.67" x2="62.60" y2="328.67" stroke="#111" stroke-width="1.0"/>
<text x="56.20" y="331.62" font-size="8.3" text-anchor="end" font-weight="normal" fill="#111" stroke="#111" stroke-width="0.2">40</text>
<line x1="59.40" y1="316.98" x2="62.60" y2="316.98" stroke="#111" stroke-width="1.0"/>
<line x1="59.40" y1="305.28" x2="62.60" y2="305.28" stroke="#111" stroke-width="1.0"/>
<text x="56.20" y="308.23" font-size="8.3" text-anchor="end" font-weight="normal" fill="#111" stroke="#111" stroke-width="0.2">60</text>
<line x1="59.40" y1="293.58" x2="62.60" y2="293.58" stroke="#111" stroke-width="1.0"/>
<line x1="59.40" y1="281.89" x2="62.60" y2="281.89" stroke="#111" stroke-width="1.0"/>
<text x="56.20" y="284.84" font-size="8.3" text-anchor="end" font-weight="normal" fill="#111" stroke="#111" stroke-width="0.2">80</text>
<line x1="59.40" y1="270.19" x2="62.60" y2="270.19" stroke="#111" stroke-width="1.0"/>
<line x1="59.40" y1="258.50" x2="62.60" y2="258.50" stroke="#111" stroke-width="1.0"/>
<text x="56.20" y="261.45" font-size="8.3" text-anchor="end" font-weight="normal" fill="#111" stroke="#111" stroke-width="0.2">100</text>
<line x1="63.40" y1="377.60" x2="63.40" y2="380.80" stroke="#111" stroke-width="1.0"/>
<text x="63.40" y="391.40" font-size="8.3" text-anchor="middle" font-weight="normal" fill="#111" stroke="#111" stroke-width="0.2">0.0</text>
<line x1="101.57" y1="377.60" x2="101.57" y2="380.80" stroke="#111" stroke-width="1.0"/>
<text x="101.57" y="391.40" font-size="8.3" text-anchor="middle" font-weight="normal" fill="#111" stroke="#111" stroke-width="0.2">0.5</text>
<line x1="139.75" y1="377.60" x2="139.75" y2="380.80" stroke="#111" stroke-width="1.0"/>
<text x="139.75" y="391.40" font-size="8.3" text-anchor="middle" font-weight="normal" fill="#111" stroke="#111" stroke-width="0.2">1.0</text>
<line x1="177.92" y1="377.60" x2="177.92" y2="380.80" stroke="#111" stroke-width="1.0"/>
<text x="177.92" y="391.40" font-size="8.3" text-anchor="middle" font-weight="normal" fill="#111" stroke="#111" stroke-width="0.2">1.5</text>
<line x1="216.10" y1="377.60" x2="216.10" y2="380.80" stroke="#111" stroke-width="1.0"/>
<text x="216.10" y="391.40" font-size="8.3" text-anchor="middle" font-weight="normal" fill="#111" stroke="#111" stroke-width="0.2">2.0</text>
<rect x="62.60" y="256.10" width="182.20" height="121.50" fill="none" stroke="#111" stroke-width="1.15"/>
<text transform="translate(24.60,314.10) rotate(-90)" x="0" y="0" font-size="10.4" text-anchor="middle" fill="#1a1a1a" stroke="#1a1a1a" stroke-width="0.3" textLength="106.00" lengthAdjust="spacingAndGlyphs">Proportion of subjects with BOR of</text>
<text transform="translate(36.40,313.40) rotate(-90)" x="0" y="0" font-size="10.4" text-anchor="middle" fill="#1a1a1a" stroke="#1a1a1a" stroke-width="0.3" textLength="69.20" lengthAdjust="spacingAndGlyphs">complete remission, %</text>
<text x="152.70" y="405.60" font-size="9.6" text-anchor="middle" font-weight="normal" fill="#1a1a1a" textLength="72.10" lengthAdjust="spacingAndGlyphs" stroke="#1a1a1a" stroke-width="0.35">Total dose (10E8 cells)*</text>
<circle cx="71.50" cy="258.80" r="1.15" fill="none" stroke="#BF0C38" stroke-width="0.85"/>
<circle cx="81.60" cy="258.80" r="1.15" fill="none" stroke="#BF0C38" stroke-width="0.85"/>
<circle cx="82.50" cy="258.80" r="1.15" fill="none" stroke="#BF0C38" stroke-width="0.85"/>
<circle cx="89.10" cy="258.80" r="1.15" fill="none" stroke="#BF0C38" stroke-width="0.85"/>
<circle cx="96.00" cy="258.80" r="1.15" fill="none" stroke="#BF0C38" stroke-width="0.85"/>
<circle cx="98.90" cy="258.80" r="1.15" fill="none" stroke="#BF0C38" stroke-width="0.85"/>
<circle cx="101.80" cy="258.80" r="1.15" fill="none" stroke="#BF0C38" stroke-width="0.85"/>
<circle cx="104.70" cy="258.80" r="1.15" fill="none" stroke="#BF0C38" stroke-width="0.85"/>
<circle cx="106.32" cy="258.80" r="1.15" fill="none" stroke="#BF0C38" stroke-width="0.85"/>
<circle cx="107.94" cy="258.80" r="1.15" fill="none" stroke="#BF0C38" stroke-width="0.85"/>
<circle cx="109.56" cy="258.80" r="1.15" fill="none" stroke="#BF0C38" stroke-width="0.85"/>
<circle cx="111.18" cy="258.80" r="1.15" fill="none" stroke="#BF0C38" stroke-width="0.85"/>
<circle cx="112.80" cy="258.80" r="1.15" fill="none" stroke="#BF0C38" stroke-width="0.85"/>
<circle cx="114.42" cy="258.80" r="1.15" fill="none" stroke="#BF0C38" stroke-width="0.85"/>
<circle cx="116.04" cy="258.80" r="1.15" fill="none" stroke="#BF0C38" stroke-width="0.85"/>
<circle cx="117.66" cy="258.80" r="1.15" fill="none" stroke="#BF0C38" stroke-width="0.85"/>
<circle cx="119.28" cy="258.80" r="1.15" fill="none" stroke="#BF0C38" stroke-width="0.85"/>
<circle cx="120.90" cy="258.80" r="1.15" fill="none" stroke="#BF0C38" stroke-width="0.85"/>
<circle cx="122.52" cy="258.80" r="1.15" fill="none" stroke="#BF0C38" stroke-width="0.85"/>
<circle cx="124.14" cy="258.80" r="1.15" fill="none" stroke="#BF0C38" stroke-width="0.85"/>
<circle cx="125.76" cy="258.80" r="1.15" fill="none" stroke="#BF0C38" stroke-width="0.85"/>
<circle cx="127.38" cy="258.80" r="1.15" fill="none" stroke="#BF0C38" stroke-width="0.85"/>
<circle cx="129.00" cy="258.80" r="1.15" fill="none" stroke="#BF0C38" stroke-width="0.85"/>
<circle cx="130.62" cy="258.80" r="1.15" fill="none" stroke="#BF0C38" stroke-width="0.85"/>
<circle cx="132.24" cy="258.80" r="1.15" fill="none" stroke="#BF0C38" stroke-width="0.85"/>
<circle cx="133.86" cy="258.80" r="1.15" fill="none" stroke="#BF0C38" stroke-width="0.85"/>
<circle cx="135.48" cy="258.80" r="1.15" fill="none" stroke="#BF0C38" stroke-width="0.85"/>
<circle cx="137.10" cy="258.80" r="1.15" fill="none" stroke="#BF0C38" stroke-width="0.85"/>
<circle cx="138.72" cy="258.80" r="1.15" fill="none" stroke="#BF0C38" stroke-width="0.85"/>
<circle cx="140.34" cy="258.80" r="1.15" fill="none" stroke="#BF0C38" stroke-width="0.85"/>
<circle cx="141.96" cy="258.80" r="1.15" fill="none" stroke="#BF0C38" stroke-width="0.85"/>
<circle cx="143.58" cy="258.80" r="1.15" fill="none" stroke="#BF0C38" stroke-width="0.85"/>
<circle cx="145.20" cy="258.80" r="1.15" fill="none" stroke="#BF0C38" stroke-width="0.85"/>
<circle cx="146.82" cy="258.80" r="1.15" fill="none" stroke="#BF0C38" stroke-width="0.85"/>
<circle cx="148.44" cy="258.80" r="1.15" fill="none" stroke="#BF0C38" stroke-width="0.85"/>
<circle cx="150.06" cy="258.80" r="1.15" fill="none" stroke="#BF0C38" stroke-width="0.85"/>
<circle cx="151.68" cy="258.80" r="1.15" fill="none" stroke="#BF0C38" stroke-width="0.85"/>
<circle cx="153.30" cy="258.80" r="1.15" fill="none" stroke="#BF0C38" stroke-width="0.85"/>
<circle cx="154.92" cy="258.80" r="1.15" fill="none" stroke="#BF0C38" stroke-width="0.85"/>
<circle cx="156.54" cy="258.80" r="1.15" fill="none" stroke="#BF0C38" stroke-width="0.85"/>
<circle cx="158.16" cy="258.80" r="1.15" fill="none" stroke="#BF0C38" stroke-width="0.85"/>
<circle cx="159.78" cy="258.80" r="1.15" fill="none" stroke="#BF0C38" stroke-width="0.85"/>
<circle cx="161.40" cy="258.80" r="1.15" fill="none" stroke="#BF0C38" stroke-width="0.85"/>
<circle cx="165.40" cy="258.80" r="1.15" fill="none" stroke="#BF0C38" stroke-width="0.85"/>
<circle cx="167.72" cy="258.80" r="1.15" fill="none" stroke="#BF0C38" stroke-width="0.85"/>
<circle cx="170.05" cy="258.80" r="1.15" fill="none" stroke="#BF0C38" stroke-width="0.85"/>
<circle cx="172.38" cy="258.80" r="1.15" fill="none" stroke="#BF0C38" stroke-width="0.85"/>
<circle cx="174.70" cy="258.80" r="1.15" fill="none" stroke="#BF0C38" stroke-width="0.85"/>
<circle cx="188.20" cy="258.80" r="1.15" fill="none" stroke="#BF0C38" stroke-width="0.85"/>
<circle cx="190.12" cy="258.80" r="1.15" fill="none" stroke="#BF0C38" stroke-width="0.85"/>
<circle cx="192.05" cy="258.80" r="1.15" fill="none" stroke="#BF0C38" stroke-width="0.85"/>
<circle cx="193.97" cy="258.80" r="1.15" fill="none" stroke="#BF0C38" stroke-width="0.85"/>
<circle cx="195.90" cy="258.80" r="1.15" fill="none" stroke="#BF0C38" stroke-width="0.85"/>
<circle cx="216.80" cy="258.80" r="1.15" fill="none" stroke="#BF0C38" stroke-width="0.85"/>
<circle cx="237.70" cy="258.80" r="1.15" fill="none" stroke="#BF0C38" stroke-width="0.85"/>
<circle cx="241.50" cy="258.80" r="1.15" fill="none" stroke="#BF0C38" stroke-width="0.85"/>
<circle cx="69.40" cy="375.15" r="1.15" fill="none" stroke="#BF0C38" stroke-width="0.85"/>
<circle cx="75.00" cy="375.15" r="1.15" fill="none" stroke="#BF0C38" stroke-width="0.85"/>
<circle cx="76.00" cy="375.15" r="1.15" fill="none" stroke="#BF0C38" stroke-width="0.85"/>
<circle cx="93.10" cy="375.15" r="1.15" fill="none" stroke="#BF0C38" stroke-width="0.85"/>
<circle cx="96.10" cy="375.15" r="1.15" fill="none" stroke="#BF0C38" stroke-width="0.85"/>
<circle cx="99.20" cy="375.15" r="1.15" fill="none" stroke="#BF0C38" stroke-width="0.85"/>
<circle cx="108.40" cy="375.15" r="1.15" fill="none" stroke="#BF0C38" stroke-width="0.85"/>
<circle cx="115.70" cy="375.15" r="1.15" fill="none" stroke="#BF0C38" stroke-width="0.85"/>
<circle cx="116.70" cy="375.15" r="1.15" fill="none" stroke="#BF0C38" stroke-width="0.85"/>
<circle cx="122.90" cy="375.15" r="1.15" fill="none" stroke="#BF0C38" stroke-width="0.85"/>
<circle cx="125.50" cy="375.15" r="1.15" fill="none" stroke="#BF0C38" stroke-width="0.85"/>
<circle cx="132.60" cy="375.15" r="1.15" fill="none" stroke="#BF0C38" stroke-width="0.85"/>
<circle cx="139.30" cy="375.15" r="1.15" fill="none" stroke="#BF0C38" stroke-width="0.85"/>
<circle cx="150.90" cy="375.15" r="1.15" fill="none" stroke="#BF0C38" stroke-width="0.85"/>
<circle cx="155.20" cy="375.15" r="1.15" fill="none" stroke="#BF0C38" stroke-width="0.85"/>
<circle cx="162.50" cy="375.15" r="1.15" fill="none" stroke="#BF0C38" stroke-width="0.85"/>
<circle cx="164.20" cy="375.15" r="1.15" fill="none" stroke="#BF0C38" stroke-width="0.85"/>
<circle cx="181.50" cy="375.15" r="1.15" fill="none" stroke="#BF0C38" stroke-width="0.85"/>
<circle cx="182.50" cy="375.15" r="1.15" fill="none" stroke="#BF0C38" stroke-width="0.85"/>
<circle cx="191.00" cy="375.15" r="1.15" fill="none" stroke="#BF0C38" stroke-width="0.85"/>
<circle cx="199.80" cy="375.15" r="1.15" fill="none" stroke="#BF0C38" stroke-width="0.85"/>
<path d="M69.5,321.17 L69.8,320.32 L70.0,319.46 L70.3,318.60 L70.6,317.74 L70.9,316.88 L71.3,316.02 L71.6,315.16 L72.0,314.31 L72.3,313.45 L72.7,312.59 L73.1,311.74 L73.5,310.89 L74.0,310.04 L74.4,309.20 L74.9,308.35 L75.4,307.51 L75.9,306.68 L76.5,305.85 L77.0,305.02 L77.6,304.20 L78.2,303.39 L78.9,302.58 L79.5,301.77 L80.2,300.97 L80.9,300.18 L81.7,299.40 L82.5,298.62 L83.3,297.85 L84.2,297.08 L85.1,296.33 L86.0,295.58 L87.0,294.84 L88.0,294.11 L89.0,293.38 L90.2,292.67 L91.3,291.96 L92.5,291.27 L93.8,290.58 L95.1,289.90 L96.4,289.23 L97.9,288.57 L99.3,287.91 L100.9,287.27 L102.5,286.64 L104.2,286.02 L106.0,285.40 L107.8,284.80 L109.7,284.20 L111.7,283.62 L113.8,283.04 L115.9,282.48 L118.2,281.92 L120.6,281.38 L123.0,280.84 L125.6,280.32 L128.3,279.80 L131.1,279.29 L134.0,278.79 L137.0,278.31 L140.2,277.83 L143.5,277.36 L147.0,276.90 L150.6,276.45 L154.3,276.00 L158.3,275.57 L162.4,275.15 L166.6,274.73 L171.1,274.33 L175.7,273.93 L180.6,273.54 L185.6,273.16 L190.9,272.78 L196.4,272.42 L202.1,272.06 L208.1,271.72 L214.3,271.37 L220.8,271.04 L227.6,270.72 L234.7,270.40 L242.1,270.09" fill="none" stroke="#BA2349" stroke-width="1.3"/>
<path d="M69.5,276.62 L69.8,276.66 L70.0,276.70 L70.3,276.73 L70.6,276.77 L70.9,276.81 L71.3,276.85 L71.6,276.88 L72.0,276.92 L72.3,276.95 L72.7,276.99 L73.1,277.02 L73.5,277.05 L74.0,277.08 L74.4,277.11 L74.9,277.14 L75.4,277.16 L75.9,277.19 L76.5,277.21 L77.0,277.23 L77.6,277.25 L78.2,277.27 L78.9,277.28 L79.5,277.29 L80.2,277.30 L80.9,277.31 L81.7,277.31 L82.5,277.31 L83.3,277.31 L84.2,277.30 L85.1,277.28 L86.0,277.27 L87.0,277.24 L88.0,277.21 L89.0,277.18 L90.2,277.13 L91.3,277.08 L92.5,277.02 L93.8,276.95 L95.1,276.87 L96.4,276.78 L97.9,276.67 L99.3,276.55 L100.9,276.42 L102.5,276.26 L104.2,276.09 L106.0,275.90 L107.8,275.69 L109.7,275.45 L111.7,275.19 L113.8,274.91 L115.9,274.60 L118.2,274.27 L120.6,273.91 L123.0,273.52 L125.6,273.12 L128.3,272.69 L131.1,272.25 L134.0,271.80 L137.0,271.34 L140.2,270.87 L143.5,270.39 L147.0,269.92 L150.6,269.44 L154.3,268.97 L158.3,268.51 L162.4,268.06 L166.6,267.62 L171.1,267.18 L175.7,266.77 L180.6,266.36 L185.6,265.97 L190.9,265.59 L196.4,265.23 L202.1,264.88 L208.1,264.55 L214.3,264.23 L220.8,263.92 L227.6,263.63 L234.7,263.35 L242.1,263.09" fill="none" stroke="#BA2349" stroke-width="1.3" stroke-dasharray="4.0,2.6"/>
<path d="M69.5,361.32 L69.8,360.53 L70.0,359.72 L70.3,358.86 L70.6,357.97 L70.9,357.04 L71.3,356.07 L71.6,355.07 L72.0,354.02 L72.3,352.93 L72.7,351.80 L73.1,350.63 L73.5,349.42 L74.0,348.17 L74.4,346.88 L74.9,345.56 L75.4,344.19 L75.9,342.79 L76.5,341.36 L77.0,339.89 L77.6,338.38 L78.2,336.85 L78.9,335.29 L79.5,333.71 L80.2,332.10 L80.9,330.48 L81.7,328.83 L82.5,327.18 L83.3,325.51 L84.2,323.84 L85.1,322.16 L86.0,320.49 L87.0,318.81 L88.0,317.15 L89.0,315.50 L90.2,313.87 L91.3,312.25 L92.5,310.66 L93.8,309.10 L95.1,307.56 L96.4,306.07 L97.9,304.61 L99.3,303.19 L100.9,301.82 L102.5,300.51 L104.2,299.24 L106.0,298.03 L107.8,296.88 L109.7,295.79 L111.7,294.76 L113.8,293.80 L115.9,292.90 L118.2,292.07 L120.6,291.30 L123.0,290.60 L125.6,289.97 L128.3,289.39 L131.1,288.87 L134.0,288.40 L137.0,287.99 L140.2,287.62 L143.5,287.29 L147.0,287.00 L150.6,286.74 L154.3,286.51 L158.3,286.31 L162.4,286.14 L166.6,285.99 L171.1,285.85 L175.7,285.74 L180.6,285.64 L185.6,285.55 L190.9,285.48 L196.4,285.42 L202.1,285.37 L208.1,285.33 L214.3,285.29 L220.8,285.27 L227.6,285.25 L234.7,285.23 L242.1,285.22" fill="none" stroke="#BA2349" stroke-width="1.3" stroke-dasharray="4.0,2.6"/>
<line x1="105.40" y1="277.82" x2="105.40" y2="321.61" stroke="#222" stroke-width="1.1"/>
<line x1="103.20" y1="277.82" x2="107.60" y2="277.82" stroke="#222" stroke-width="1.1"/>
<line x1="103.20" y1="321.61" x2="107.60" y2="321.61" stroke="#222" stroke-width="1.1"/>
<circle cx="105.40" cy="297.48" r="1.7" fill="#B8002A"/>
<line x1="125.40" y1="259.53" x2="125.40" y2="285.99" stroke="#222" stroke-width="1.1"/>
<line x1="123.20" y1="259.53" x2="127.60" y2="259.53" stroke="#222" stroke-width="1.1"/>
<line x1="123.20" y1="285.99" x2="127.60" y2="285.99" stroke="#222" stroke-width="1.1"/>
<circle cx="125.40" cy="266.85" r="1.7" fill="#B8002A"/>
<line x1="139.40" y1="261.25" x2="139.40" y2="292.60" stroke="#222" stroke-width="1.1"/>
<line x1="137.20" y1="261.25" x2="141.60" y2="261.25" stroke="#222" stroke-width="1.1"/>
<line x1="137.20" y1="292.60" x2="141.60" y2="292.60" stroke="#222" stroke-width="1.1"/>
<circle cx="139.40" cy="271.49" r="1.7" fill="#B8002A"/>
<line x1="171.30" y1="271.00" x2="171.30" y2="310.98" stroke="#222" stroke-width="1.1"/>
<line x1="169.10" y1="271.00" x2="173.50" y2="271.00" stroke="#222" stroke-width="1.1"/>
<line x1="169.10" y1="310.98" x2="173.50" y2="310.98" stroke="#222" stroke-width="1.1"/>
<circle cx="171.30" cy="287.74" r="1.7" fill="#B8002A"/>
<text x="105.80" y="333.10" font-size="5.9" text-anchor="middle" font-weight="normal" fill="#2a2a2a" stroke="#2a2a2a" stroke-width="0.08">18/27</text>
<text x="125.75" y="319.60" font-size="5.9" text-anchor="middle" font-weight="normal" fill="#2a2a2a" stroke="#2a2a2a" stroke-width="0.08">26/28</text>
<text x="139.30" y="330.40" font-size="5.9" text-anchor="middle" font-weight="normal" fill="#2a2a2a" stroke="#2a2a2a" stroke-width="0.08">24/27</text>
<text x="171.30" y="319.60" font-size="5.9" text-anchor="middle" font-weight="normal" fill="#2a2a2a" stroke="#2a2a2a" stroke-width="0.08">21/28</text>
<text x="82.50" y="350.40" font-size="5.6" text-anchor="start" font-weight="normal" fill="#222" stroke="#222" stroke-width="0.1">Odds ratio for doubling</text>
<text x="82.50" y="357.00" font-size="5.6" text-anchor="start" font-weight="normal" fill="#222" stroke="#222" stroke-width="0.1">of dose [95% CI]</text>
<text x="82.50" y="363.60" font-size="5.6" text-anchor="start" font-weight="normal" fill="#222" stroke="#222" stroke-width="0.1">1.631 [0.955, 2.786]</text>
<text x="177.50" y="335.10" font-size="5.6" text-anchor="start" font-weight="normal" fill="#222" textLength="53.30" lengthAdjust="spacingAndGlyphs" stroke="#222" stroke-width="0.1">Range of each quartile</text>
<text x="177.50" y="341.70" font-size="5.6" text-anchor="start" font-weight="normal" fill="#222" stroke="#222" stroke-width="0.1">Q1: 0.08 - 0.71</text>
<text x="177.50" y="348.30" font-size="5.6" text-anchor="start" font-weight="normal" fill="#222" stroke="#222" stroke-width="0.1">Q2: 0.71 - 0.88</text>
<text x="177.50" y="354.90" font-size="5.6" text-anchor="start" font-weight="normal" fill="#222" stroke="#222" stroke-width="0.1">Q3: 0.89 - 1.15</text>
<text x="177.50" y="361.50" font-size="5.6" text-anchor="start" font-weight="normal" fill="#222" stroke="#222" stroke-width="0.1">Q4: 1.17 - 2.34</text>
<circle cx="56.20" cy="415.20" r="1.4" fill="none" stroke="#BF0C38" stroke-width="0.9"/>
<text x="61.20" y="418.00" font-size="7.8" text-anchor="start" font-weight="normal" fill="#111" textLength="49.60" lengthAdjust="spacingAndGlyphs" stroke="#111" stroke-width="0.2">Observed data</text>
<circle cx="56.20" cy="427.10" r="1.6" fill="#B8002A"/>
<text x="61.20" y="429.90" font-size="7.8" text-anchor="start" font-weight="normal" fill="#111" textLength="102.30" lengthAdjust="spacingAndGlyphs" stroke="#111" stroke-width="0.2">Observed proportion (95% CI)</text>
<line x1="167.30" y1="415.30" x2="185.60" y2="415.30" stroke="#BA2349" stroke-width="1.3"/>
<text x="189.20" y="418.10" font-size="7.8" text-anchor="start" font-weight="normal" fill="#111" textLength="62.80" lengthAdjust="spacingAndGlyphs" stroke="#111" stroke-width="0.2">Logistic regression</text>
<text x="266.90" y="250.20" font-size="11.9" text-anchor="start" font-weight="bold" fill="#000" stroke="#000" stroke-width="0.5">D</text>
<text x="404.90" y="250.40" font-size="8.4" text-anchor="middle" font-weight="normal" fill="#111" stroke="#111" stroke-width="0.2">CRS</text>
<line x1="311.40" y1="375.30" x2="314.60" y2="375.30" stroke="#111" stroke-width="1.0"/>
<text x="308.20" y="378.25" font-size="8.3" text-anchor="end" font-weight="normal" fill="#111" stroke="#111" stroke-width="0.2">0</text>
<line x1="311.40" y1="363.46" x2="314.60" y2="363.46" stroke="#111" stroke-width="1.0"/>
<line x1="311.40" y1="351.62" x2="314.60" y2="351.62" stroke="#111" stroke-width="1.0"/>
<text x="308.20" y="354.57" font-size="8.3" text-anchor="end" font-weight="normal" fill="#111" stroke="#111" stroke-width="0.2">20</text>
<line x1="311.40" y1="339.78" x2="314.60" y2="339.78" stroke="#111" stroke-width="1.0"/>
<line x1="311.40" y1="327.94" x2="314.60" y2="327.94" stroke="#111" stroke-width="1.0"/>
<text x="308.20" y="330.89" font-size="8.3" text-anchor="end" font-weight="normal" fill="#111" stroke="#111" stroke-width="0.2">40</text>
<line x1="311.40" y1="316.10" x2="314.60" y2="316.10" stroke="#111" stroke-width="1.0"/>
<line x1="311.40" y1="304.26" x2="314.60" y2="304.26" stroke="#111" stroke-width="1.0"/>
<text x="308.20" y="307.21" font-size="8.3" text-anchor="end" font-weight="normal" fill="#111" stroke="#111" stroke-width="0.2">60</text>
<line x1="311.40" y1="292.42" x2="314.60" y2="292.42" stroke="#111" stroke-width="1.0"/>
<line x1="311.40" y1="280.58" x2="314.60" y2="280.58" stroke="#111" stroke-width="1.0"/>
<text x="308.20" y="283.53" font-size="8.3" text-anchor="end" font-weight="normal" fill="#111" stroke="#111" stroke-width="0.2">80</text>
<line x1="311.40" y1="268.74" x2="314.60" y2="268.74" stroke="#111" stroke-width="1.0"/>
<line x1="311.40" y1="256.90" x2="314.60" y2="256.90" stroke="#111" stroke-width="1.0"/>
<text x="308.20" y="259.85" font-size="8.3" text-anchor="end" font-weight="normal" fill="#111" stroke="#111" stroke-width="0.2">100</text>
<line x1="315.50" y1="377.70" x2="315.50" y2="380.90" stroke="#111" stroke-width="1.0"/>
<text x="315.50" y="391.50" font-size="8.3" text-anchor="middle" font-weight="normal" fill="#111" stroke="#111" stroke-width="0.2">0.0</text>
<line x1="354.35" y1="377.70" x2="354.35" y2="380.90" stroke="#111" stroke-width="1.0"/>
<text x="354.35" y="391.50" font-size="8.3" text-anchor="middle" font-weight="normal" fill="#111" stroke="#111" stroke-width="0.2">0.5</text>
<line x1="393.20" y1="377.70" x2="393.20" y2="380.90" stroke="#111" stroke-width="1.0"/>
<text x="393.20" y="391.50" font-size="8.3" text-anchor="middle" font-weight="normal" fill="#111" stroke="#111" stroke-width="0.2">1.0</text>
<line x1="432.05" y1="377.70" x2="432.05" y2="380.90" stroke="#111" stroke-width="1.0"/>
<text x="432.05" y="391.50" font-size="8.3" text-anchor="middle" font-weight="normal" fill="#111" stroke="#111" stroke-width="0.2">1.5</text>
<line x1="470.90" y1="377.70" x2="470.90" y2="380.90" stroke="#111" stroke-width="1.0"/>
<text x="470.90" y="391.50" font-size="8.3" text-anchor="middle" font-weight="normal" fill="#111" stroke="#111" stroke-width="0.2">2.0</text>
<rect x="314.60" y="254.30" width="185.20" height="123.40" fill="none" stroke="#111" stroke-width="1.15"/>
<text transform="translate(276.70,316.60) rotate(-90)" x="0" y="0" font-size="10.4" text-anchor="middle" fill="#1a1a1a" stroke="#1a1a1a" stroke-width="0.3" textLength="95.60" lengthAdjust="spacingAndGlyphs">Proportion of subjects with any</text>
<text transform="translate(287.70,316.10) rotate(-90)" x="0" y="0" font-size="10.4" text-anchor="middle" fill="#1a1a1a" stroke="#1a1a1a" stroke-width="0.3" textLength="43.00" lengthAdjust="spacingAndGlyphs">grade CRS, %</text>
<text x="405.00" y="405.60" font-size="9.6" text-anchor="middle" font-weight="normal" fill="#1a1a1a" textLength="72.10" lengthAdjust="spacingAndGlyphs" stroke="#1a1a1a" stroke-width="0.35">Total dose (10E8 cells)*</text>
<circle cx="321.80" cy="257.20" r="1.15" fill="none" stroke="#BF0C38" stroke-width="0.85"/>
<circle cx="327.70" cy="257.20" r="1.15" fill="none" stroke="#BF0C38" stroke-width="0.85"/>
<circle cx="328.70" cy="257.20" r="1.15" fill="none" stroke="#BF0C38" stroke-width="0.85"/>
<circle cx="335.60" cy="257.20" r="1.15" fill="none" stroke="#BF0C38" stroke-width="0.85"/>
<circle cx="341.70" cy="257.20" r="1.15" fill="none" stroke="#BF0C38" stroke-width="0.85"/>
<circle cx="346.90" cy="257.20" r="1.15" fill="none" stroke="#BF0C38" stroke-width="0.85"/>
<circle cx="350.07" cy="257.20" r="1.15" fill="none" stroke="#BF0C38" stroke-width="0.85"/>
<circle cx="353.23" cy="257.20" r="1.15" fill="none" stroke="#BF0C38" stroke-width="0.85"/>
<circle cx="356.40" cy="257.20" r="1.15" fill="none" stroke="#BF0C38" stroke-width="0.85"/>
<circle cx="359.57" cy="257.20" r="1.15" fill="none" stroke="#BF0C38" stroke-width="0.85"/>
<circle cx="362.73" cy="257.20" r="1.15" fill="none" stroke="#BF0C38" stroke-width="0.85"/>
<circle cx="365.90" cy="257.20" r="1.15" fill="none" stroke="#BF0C38" stroke-width="0.85"/>
<circle cx="367.60" cy="257.20" r="1.15" fill="none" stroke="#BF0C38" stroke-width="0.85"/>
<circle cx="369.19" cy="257.20" r="1.15" fill="none" stroke="#BF0C38" stroke-width="0.85"/>
<circle cx="370.78" cy="257.20" r="1.15" fill="none" stroke="#BF0C38" stroke-width="0.85"/>
<circle cx="372.38" cy="257.20" r="1.15" fill="none" stroke="#BF0C38" stroke-width="0.85"/>
<circle cx="373.97" cy="257.20" r="1.15" fill="none" stroke="#BF0C38" stroke-width="0.85"/>
<circle cx="375.56" cy="257.20" r="1.15" fill="none" stroke="#BF0C38" stroke-width="0.85"/>
<circle cx="377.15" cy="257.20" r="1.15" fill="none" stroke="#BF0C38" stroke-width="0.85"/>
<circle cx="378.74" cy="257.20" r="1.15" fill="none" stroke="#BF0C38" stroke-width="0.85"/>
<circle cx="380.33" cy="257.20" r="1.15" fill="none" stroke="#BF0C38" stroke-width="0.85"/>
<circle cx="381.93" cy="257.20" r="1.15" fill="none" stroke="#BF0C38" stroke-width="0.85"/>
<circle cx="383.52" cy="257.20" r="1.15" fill="none" stroke="#BF0C38" stroke-width="0.85"/>
<circle cx="385.11" cy="257.20" r="1.15" fill="none" stroke="#BF0C38" stroke-width="0.85"/>
<circle cx="386.70" cy="257.20" r="1.15" fill="none" stroke="#BF0C38" stroke-width="0.85"/>
<circle cx="388.50" cy="257.20" r="1.15" fill="none" stroke="#BF0C38" stroke-width="0.85"/>
<circle cx="391.50" cy="257.20" r="1.15" fill="none" stroke="#BF0C38" stroke-width="0.85"/>
<circle cx="393.00" cy="257.20" r="1.15" fill="none" stroke="#BF0C38" stroke-width="0.85"/>
<circle cx="397.00" cy="257.20" r="1.15" fill="none" stroke="#BF0C38" stroke-width="0.85"/>
<circle cx="400.50" cy="257.20" r="1.15" fill="none" stroke="#BF0C38" stroke-width="0.85"/>
<circle cx="404.00" cy="257.20" r="1.15" fill="none" stroke="#BF0C38" stroke-width="0.85"/>
<circle cx="405.00" cy="257.20" r="1.15" fill="none" stroke="#BF0C38" stroke-width="0.85"/>
<circle cx="406.73" cy="257.20" r="1.15" fill="none" stroke="#BF0C38" stroke-width="0.85"/>
<circle cx="408.47" cy="257.20" r="1.15" fill="none" stroke="#BF0C38" stroke-width="0.85"/>
<circle cx="410.20" cy="257.20" r="1.15" fill="none" stroke="#BF0C38" stroke-width="0.85"/>
<circle cx="411.93" cy="257.20" r="1.15" fill="none" stroke="#BF0C38" stroke-width="0.85"/>
<circle cx="413.67" cy="257.20" r="1.15" fill="none" stroke="#BF0C38" stroke-width="0.85"/>
<circle cx="415.40" cy="257.20" r="1.15" fill="none" stroke="#BF0C38" stroke-width="0.85"/>
<circle cx="418.30" cy="257.20" r="1.15" fill="none" stroke="#BF0C38" stroke-width="0.85"/>
<circle cx="426.00" cy="257.20" r="1.15" fill="none" stroke="#BF0C38" stroke-width="0.85"/>
<circle cx="428.50" cy="257.20" r="1.15" fill="none" stroke="#BF0C38" stroke-width="0.85"/>
<circle cx="437.50" cy="257.20" r="1.15" fill="none" stroke="#BF0C38" stroke-width="0.85"/>
<circle cx="444.60" cy="257.20" r="1.15" fill="none" stroke="#BF0C38" stroke-width="0.85"/>
<circle cx="446.55" cy="257.20" r="1.15" fill="none" stroke="#BF0C38" stroke-width="0.85"/>
<circle cx="448.50" cy="257.20" r="1.15" fill="none" stroke="#BF0C38" stroke-width="0.85"/>
<circle cx="454.40" cy="257.20" r="1.15" fill="none" stroke="#BF0C38" stroke-width="0.85"/>
<circle cx="493.80" cy="257.20" r="1.15" fill="none" stroke="#BF0C38" stroke-width="0.85"/>
<circle cx="495.80" cy="257.20" r="1.15" fill="none" stroke="#BF0C38" stroke-width="0.85"/>
<circle cx="324.00" cy="375.00" r="1.15" fill="none" stroke="#BF0C38" stroke-width="0.85"/>
<circle cx="333.90" cy="375.00" r="1.15" fill="none" stroke="#BF0C38" stroke-width="0.85"/>
<circle cx="348.60" cy="375.00" r="1.15" fill="none" stroke="#BF0C38" stroke-width="0.85"/>
<circle cx="350.70" cy="375.00" r="1.15" fill="none" stroke="#BF0C38" stroke-width="0.85"/>
<circle cx="358.60" cy="375.00" r="1.15" fill="none" stroke="#BF0C38" stroke-width="0.85"/>
<circle cx="360.20" cy="375.00" r="1.15" fill="none" stroke="#BF0C38" stroke-width="0.85"/>
<circle cx="361.79" cy="375.00" r="1.15" fill="none" stroke="#BF0C38" stroke-width="0.85"/>
<circle cx="363.39" cy="375.00" r="1.15" fill="none" stroke="#BF0C38" stroke-width="0.85"/>
<circle cx="364.98" cy="375.00" r="1.15" fill="none" stroke="#BF0C38" stroke-width="0.85"/>
<circle cx="366.58" cy="375.00" r="1.15" fill="none" stroke="#BF0C38" stroke-width="0.85"/>
<circle cx="368.17" cy="375.00" r="1.15" fill="none" stroke="#BF0C38" stroke-width="0.85"/>
<circle cx="369.77" cy="375.00" r="1.15" fill="none" stroke="#BF0C38" stroke-width="0.85"/>
<circle cx="371.37" cy="375.00" r="1.15" fill="none" stroke="#BF0C38" stroke-width="0.85"/>
<circle cx="372.96" cy="375.00" r="1.15" fill="none" stroke="#BF0C38" stroke-width="0.85"/>
<circle cx="374.56" cy="375.00" r="1.15" fill="none" stroke="#BF0C38" stroke-width="0.85"/>
<circle cx="376.15" cy="375.00" r="1.15" fill="none" stroke="#BF0C38" stroke-width="0.85"/>
<circle cx="377.75" cy="375.00" r="1.15" fill="none" stroke="#BF0C38" stroke-width="0.85"/>
<circle cx="379.34" cy="375.00" r="1.15" fill="none" stroke="#BF0C38" stroke-width="0.85"/>
<circle cx="380.94" cy="375.00" r="1.15" fill="none" stroke="#BF0C38" stroke-width="0.85"/>
<circle cx="382.53" cy="375.00" r="1.15" fill="none" stroke="#BF0C38" stroke-width="0.85"/>
<circle cx="384.13" cy="375.00" r="1.15" fill="none" stroke="#BF0C38" stroke-width="0.85"/>
<circle cx="385.73" cy="375.00" r="1.15" fill="none" stroke="#BF0C38" stroke-width="0.85"/>
<circle cx="387.32" cy="375.00" r="1.15" fill="none" stroke="#BF0C38" stroke-width="0.85"/>
<circle cx="388.92" cy="375.00" r="1.15" fill="none" stroke="#BF0C38" stroke-width="0.85"/>
<circle cx="390.51" cy="375.00" r="1.15" fill="none" stroke="#BF0C38" stroke-width="0.85"/>
<circle cx="392.11" cy="375.00" r="1.15" fill="none" stroke="#BF0C38" stroke-width="0.85"/>
<circle cx="393.70" cy="375.00" r="1.15" fill="none" stroke="#BF0C38" stroke-width="0.85"/>
<circle cx="395.30" cy="375.00" r="1.15" fill="none" stroke="#BF0C38" stroke-width="0.85"/>
<circle cx="400.50" cy="375.00" r="1.15" fill="none" stroke="#BF0C38" stroke-width="0.85"/>
<circle cx="402.50" cy="375.00" r="1.15" fill="none" stroke="#BF0C38" stroke-width="0.85"/>
<circle cx="404.30" cy="375.00" r="1.15" fill="none" stroke="#BF0C38" stroke-width="0.85"/>
<circle cx="415.40" cy="375.00" r="1.15" fill="none" stroke="#BF0C38" stroke-width="0.85"/>
<circle cx="419.20" cy="375.00" r="1.15" fill="none" stroke="#BF0C38" stroke-width="0.85"/>
<circle cx="421.13" cy="375.00" r="1.15" fill="none" stroke="#BF0C38" stroke-width="0.85"/>
<circle cx="423.07" cy="375.00" r="1.15" fill="none" stroke="#BF0C38" stroke-width="0.85"/>
<circle cx="425.00" cy="375.00" r="1.15" fill="none" stroke="#BF0C38" stroke-width="0.85"/>
<circle cx="435.60" cy="375.00" r="1.15" fill="none" stroke="#BF0C38" stroke-width="0.85"/>
<circle cx="442.70" cy="375.00" r="1.15" fill="none" stroke="#BF0C38" stroke-width="0.85"/>
<circle cx="446.20" cy="375.00" r="1.15" fill="none" stroke="#BF0C38" stroke-width="0.85"/>
<circle cx="471.50" cy="375.00" r="1.15" fill="none" stroke="#BF0C38" stroke-width="0.85"/>
<path d="M321.7,302.54 L322.0,302.66 L322.3,302.79 L322.6,302.92 L322.9,303.05 L323.2,303.18 L323.5,303.31 L323.9,303.44 L324.2,303.57 L324.6,303.70 L325.0,303.83 L325.4,303.96 L325.8,304.09 L326.3,304.22 L326.7,304.35 L327.2,304.48 L327.7,304.61 L328.2,304.74 L328.8,304.87 L329.4,305.00 L330.0,305.13 L330.6,305.26 L331.2,305.40 L331.9,305.53 L332.6,305.66 L333.4,305.79 L334.1,305.92 L334.9,306.05 L335.8,306.19 L336.6,306.32 L337.5,306.45 L338.5,306.58 L339.5,306.71 L340.5,306.85 L341.6,306.98 L342.7,307.11 L343.9,307.24 L345.1,307.38 L346.4,307.51 L347.7,307.64 L349.1,307.77 L350.6,307.91 L352.1,308.04 L353.7,308.17 L355.3,308.31 L357.0,308.44 L358.8,308.57 L360.7,308.71 L362.6,308.84 L364.6,308.98 L366.8,309.11 L369.0,309.24 L371.3,309.38 L373.7,309.51 L376.2,309.65 L378.8,309.78 L381.5,309.91 L384.4,310.05 L387.4,310.18 L390.5,310.32 L393.7,310.45 L397.1,310.59 L400.6,310.72 L404.2,310.85 L408.1,310.99 L412.0,311.12 L416.2,311.26 L420.5,311.39 L425.1,311.53 L429.8,311.66 L434.7,311.80 L439.9,311.93 L445.2,312.07 L450.8,312.20 L456.6,312.34 L462.7,312.47 L469.1,312.61 L475.7,312.74 L482.6,312.88 L489.8,313.02 L497.3,313.15" fill="none" stroke="#BA2349" stroke-width="1.3"/>
<path d="M321.7,269.22 L322.0,269.58 L322.3,269.96 L322.6,270.34 L322.9,270.74 L323.2,271.14 L323.5,271.55 L323.9,271.98 L324.2,272.41 L324.6,272.85 L325.0,273.31 L325.4,273.77 L325.8,274.24 L326.3,274.73 L326.7,275.22 L327.2,275.72 L327.7,276.24 L328.2,276.76 L328.8,277.30 L329.4,277.84 L330.0,278.40 L330.6,278.96 L331.2,279.54 L331.9,280.12 L332.6,280.72 L333.4,281.32 L334.1,281.94 L334.9,282.56 L335.8,283.19 L336.6,283.82 L337.5,284.47 L338.5,285.12 L339.5,285.78 L340.5,286.44 L341.6,287.11 L342.7,287.78 L343.9,288.46 L345.1,289.13 L346.4,289.81 L347.7,290.49 L349.1,291.17 L350.6,291.84 L352.1,292.50 L353.7,293.16 L355.3,293.80 L357.0,294.44 L358.8,295.05 L360.7,295.65 L362.6,296.22 L364.6,296.76 L366.8,297.27 L369.0,297.75 L371.3,298.18 L373.7,298.56 L376.2,298.90 L378.8,299.17 L381.5,299.39 L384.4,299.55 L387.4,299.65 L390.5,299.69 L393.7,299.67 L397.1,299.59 L400.6,299.45 L404.2,299.27 L408.1,299.05 L412.0,298.78 L416.2,298.47 L420.5,298.14 L425.1,297.77 L429.8,297.38 L434.7,296.97 L439.9,296.54 L445.2,296.09 L450.8,295.63 L456.6,295.16 L462.7,294.68 L469.1,294.19 L475.7,293.69 L482.6,293.19 L489.8,292.68 L497.3,292.17" fill="none" stroke="#BA2349" stroke-width="1.3" stroke-dasharray="4.0,2.6"/>
<path d="M321.7,348.31 L322.0,347.82 L322.3,347.32 L322.6,346.82 L322.9,346.30 L323.2,345.79 L323.5,345.27 L323.9,344.74 L324.2,344.21 L324.6,343.67 L325.0,343.13 L325.4,342.58 L325.8,342.03 L326.3,341.47 L326.7,340.91 L327.2,340.35 L327.7,339.78 L328.2,339.21 L328.8,338.63 L329.4,338.05 L330.0,337.47 L330.6,336.88 L331.2,336.30 L331.9,335.71 L332.6,335.12 L333.4,334.52 L334.1,333.93 L334.9,333.33 L335.8,332.74 L336.6,332.15 L337.5,331.55 L338.5,330.96 L339.5,330.37 L340.5,329.78 L341.6,329.20 L342.7,328.62 L343.9,328.05 L345.1,327.48 L346.4,326.93 L347.7,326.38 L349.1,325.84 L350.6,325.31 L352.1,324.80 L353.7,324.31 L355.3,323.83 L357.0,323.38 L358.8,322.95 L360.7,322.54 L362.6,322.17 L364.6,321.84 L366.8,321.54 L369.0,321.29 L371.3,321.09 L373.7,320.94 L376.2,320.84 L378.8,320.81 L381.5,320.84 L384.4,320.94 L387.4,321.11 L390.5,321.34 L393.7,321.63 L397.1,321.98 L400.6,322.39 L404.2,322.86 L408.1,323.37 L412.0,323.92 L416.2,324.52 L420.5,325.15 L425.1,325.80 L429.8,326.49 L434.7,327.19 L439.9,327.92 L445.2,328.66 L450.8,329.42 L456.6,330.18 L462.7,330.96 L469.1,331.74 L475.7,332.52 L482.6,333.31 L489.8,334.11 L497.3,334.90" fill="none" stroke="#BA2349" stroke-width="1.3" stroke-dasharray="4.0,2.6"/>
<line x1="359.30" y1="291.77" x2="359.30" y2="336.78" stroke="#222" stroke-width="1.1"/>
<line x1="357.10" y1="291.77" x2="361.50" y2="291.77" stroke="#222" stroke-width="1.1"/>
<line x1="357.10" y1="336.78" x2="361.50" y2="336.78" stroke="#222" stroke-width="1.1"/>
<circle cx="359.30" cy="314.06" r="1.7" fill="#B8002A"/>
<line x1="378.90" y1="284.75" x2="378.90" y2="329.20" stroke="#222" stroke-width="1.1"/>
<line x1="376.70" y1="284.75" x2="381.10" y2="284.75" stroke="#222" stroke-width="1.1"/>
<line x1="376.70" y1="329.20" x2="381.10" y2="329.20" stroke="#222" stroke-width="1.1"/>
<circle cx="378.90" cy="305.89" r="1.7" fill="#B8002A"/>
<line x1="393.10" y1="295.42" x2="393.10" y2="340.43" stroke="#222" stroke-width="1.1"/>
<line x1="390.90" y1="295.42" x2="395.30" y2="295.42" stroke="#222" stroke-width="1.1"/>
<line x1="390.90" y1="340.43" x2="395.30" y2="340.43" stroke="#222" stroke-width="1.1"/>
<circle cx="393.10" cy="318.14" r="1.7" fill="#B8002A"/>
<line x1="425.30" y1="281.39" x2="425.30" y2="325.26" stroke="#222" stroke-width="1.1"/>
<line x1="423.10" y1="281.39" x2="427.50" y2="281.39" stroke="#222" stroke-width="1.1"/>
<line x1="423.10" y1="325.26" x2="427.50" y2="325.26" stroke="#222" stroke-width="1.1"/>
<circle cx="425.30" cy="301.81" r="1.7" fill="#B8002A"/>
<text x="359.50" y="287.10" font-size="5.9" text-anchor="middle" font-weight="normal" fill="#2a2a2a" stroke="#2a2a2a" stroke-width="0.08">15/29</text>
<text x="378.80" y="277.10" font-size="5.9" text-anchor="middle" font-weight="normal" fill="#2a2a2a" stroke="#2a2a2a" stroke-width="0.08">17/29</text>
<text x="392.70" y="287.30" font-size="5.9" text-anchor="middle" font-weight="normal" fill="#2a2a2a" stroke="#2a2a2a" stroke-width="0.08">14/29</text>
<text x="424.70" y="277.30" font-size="5.9" text-anchor="middle" font-weight="normal" fill="#2a2a2a" stroke="#2a2a2a" stroke-width="0.08">18/29</text>
<text x="330.70" y="352.20" font-size="5.6" text-anchor="start" font-weight="normal" fill="#222" stroke="#222" stroke-width="0.1">Odds ratio for doubling</text>
<text x="330.70" y="358.80" font-size="5.6" text-anchor="start" font-weight="normal" fill="#222" stroke="#222" stroke-width="0.1">of dose [95% CI]</text>
<text x="330.70" y="365.40" font-size="5.6" text-anchor="start" font-weight="normal" fill="#222" stroke="#222" stroke-width="0.1">0.931 [0.583, 1.485]</text>
<text x="433.00" y="340.70" font-size="5.6" text-anchor="start" font-weight="normal" fill="#222" textLength="53.30" lengthAdjust="spacingAndGlyphs" stroke="#222" stroke-width="0.1">Range of each quartile</text>
<text x="433.00" y="347.40" font-size="5.6" text-anchor="start" font-weight="normal" fill="#222" stroke="#222" stroke-width="0.1">Q1: 0.08 - 0.71</text>
<text x="433.00" y="354.00" font-size="5.6" text-anchor="start" font-weight="normal" fill="#222" stroke="#222" stroke-width="0.1">Q2: 0.72 - 0.89</text>
<text x="433.00" y="360.70" font-size="5.6" text-anchor="start" font-weight="normal" fill="#222" stroke="#222" stroke-width="0.1">Q3: 0.91 - 1.15</text>
<text x="433.00" y="367.40" font-size="5.6" text-anchor="start" font-weight="normal" fill="#222" stroke="#222" stroke-width="0.1">Q4: 1.17 - 2.34</text>
<circle cx="309.90" cy="415.60" r="1.4" fill="none" stroke="#BF0C38" stroke-width="0.9"/>
<text x="314.90" y="418.40" font-size="7.8" text-anchor="start" font-weight="normal" fill="#111" textLength="49.60" lengthAdjust="spacingAndGlyphs" stroke="#111" stroke-width="0.2">Observed data</text>
<circle cx="309.90" cy="427.50" r="1.6" fill="#B8002A"/>
<text x="314.90" y="430.30" font-size="7.8" text-anchor="start" font-weight="normal" fill="#111" textLength="102.30" lengthAdjust="spacingAndGlyphs" stroke="#111" stroke-width="0.2">Observed proportion (95% CI)</text>
<line x1="420.60" y1="415.30" x2="439.20" y2="415.30" stroke="#BA2349" stroke-width="1.3"/>
<text x="442.70" y="418.10" font-size="7.8" text-anchor="start" font-weight="normal" fill="#111" textLength="62.80" lengthAdjust="spacingAndGlyphs" stroke="#111" stroke-width="0.2">Logistic regression</text>
<text x="7.30" y="472.20" font-size="11.9" text-anchor="start" font-weight="bold" fill="#000" stroke="#000" stroke-width="0.5">E</text>
<text x="151.00" y="471.30" font-size="8.4" text-anchor="middle" font-weight="normal" fill="#111" stroke="#111" stroke-width="0.2">BOR</text>
<line x1="57.40" y1="595.30" x2="60.60" y2="595.30" stroke="#111" stroke-width="1.0"/>
<text x="54.20" y="598.25" font-size="8.3" text-anchor="end" font-weight="normal" fill="#111" stroke="#111" stroke-width="0.2">0</text>
<line x1="57.40" y1="583.53" x2="60.60" y2="583.53" stroke="#111" stroke-width="1.0"/>
<line x1="57.40" y1="571.76" x2="60.60" y2="571.76" stroke="#111" stroke-width="1.0"/>
<text x="54.20" y="574.71" font-size="8.3" text-anchor="end" font-weight="normal" fill="#111" stroke="#111" stroke-width="0.2">20</text>
<line x1="57.40" y1="559.99" x2="60.60" y2="559.99" stroke="#111" stroke-width="1.0"/>
<line x1="57.40" y1="548.22" x2="60.60" y2="548.22" stroke="#111" stroke-width="1.0"/>
<text x="54.20" y="551.17" font-size="8.3" text-anchor="end" font-weight="normal" fill="#111" stroke="#111" stroke-width="0.2">40</text>
<line x1="57.40" y1="536.45" x2="60.60" y2="536.45" stroke="#111" stroke-width="1.0"/>
<line x1="57.40" y1="524.68" x2="60.60" y2="524.68" stroke="#111" stroke-width="1.0"/>
<text x="54.20" y="527.63" font-size="8.3" text-anchor="end" font-weight="normal" fill="#111" stroke="#111" stroke-width="0.2">60</text>
<line x1="57.40" y1="512.91" x2="60.60" y2="512.91" stroke="#111" stroke-width="1.0"/>
<line x1="57.40" y1="501.14" x2="60.60" y2="501.14" stroke="#111" stroke-width="1.0"/>
<text x="54.20" y="504.09" font-size="8.3" text-anchor="end" font-weight="normal" fill="#111" stroke="#111" stroke-width="0.2">80</text>
<line x1="57.40" y1="489.37" x2="60.60" y2="489.37" stroke="#111" stroke-width="1.0"/>
<line x1="57.40" y1="477.60" x2="60.60" y2="477.60" stroke="#111" stroke-width="1.0"/>
<text x="54.20" y="480.55" font-size="8.3" text-anchor="end" font-weight="normal" fill="#111" stroke="#111" stroke-width="0.2">100</text>
<line x1="61.60" y1="598.00" x2="61.60" y2="601.20" stroke="#111" stroke-width="1.0"/>
<text x="61.60" y="611.80" font-size="8.3" text-anchor="middle" font-weight="normal" fill="#111" stroke="#111" stroke-width="0.2">0</text>
<line x1="114.70" y1="598.00" x2="114.70" y2="601.20" stroke="#111" stroke-width="1.0"/>
<text x="114.70" y="611.80" font-size="8.3" text-anchor="middle" font-weight="normal" fill="#111" stroke="#111" stroke-width="0.2">2</text>
<line x1="167.80" y1="598.00" x2="167.80" y2="601.20" stroke="#111" stroke-width="1.0"/>
<text x="167.80" y="611.80" font-size="8.3" text-anchor="middle" font-weight="normal" fill="#111" stroke="#111" stroke-width="0.2">4</text>
<line x1="220.90" y1="598.00" x2="220.90" y2="601.20" stroke="#111" stroke-width="1.0"/>
<text x="220.90" y="611.80" font-size="8.3" text-anchor="middle" font-weight="normal" fill="#111" stroke="#111" stroke-width="0.2">6</text>
<rect x="60.60" y="475.50" width="183.40" height="122.50" fill="none" stroke="#111" stroke-width="1.15"/>
<text transform="translate(22.75,536.40) rotate(-90)" x="0" y="0" font-size="10.4" text-anchor="middle" fill="#1a1a1a" stroke="#1a1a1a" stroke-width="0.3" textLength="106.90" lengthAdjust="spacingAndGlyphs">Proportion of subjects with BOR of</text>
<text transform="translate(33.70,536.60) rotate(-90)" x="0" y="0" font-size="10.4" text-anchor="middle" fill="#1a1a1a" stroke="#1a1a1a" stroke-width="0.3" textLength="39.10" lengthAdjust="spacingAndGlyphs">CR or PR, %</text>
<text x="152.10" y="625.60" font-size="9.6" text-anchor="middle" font-weight="normal" fill="#1a1a1a" textLength="67.70" lengthAdjust="spacingAndGlyphs" stroke="#1a1a1a" stroke-width="0.35">Total dose (10E8 cells)</text>
<circle cx="70.60" cy="477.90" r="1.15" fill="none" stroke="#BF0C38" stroke-width="0.85"/>
<circle cx="72.22" cy="477.90" r="1.15" fill="none" stroke="#BF0C38" stroke-width="0.85"/>
<circle cx="73.84" cy="477.90" r="1.15" fill="none" stroke="#BF0C38" stroke-width="0.85"/>
<circle cx="75.47" cy="477.90" r="1.15" fill="none" stroke="#BF0C38" stroke-width="0.85"/>
<circle cx="77.09" cy="477.90" r="1.15" fill="none" stroke="#BF0C38" stroke-width="0.85"/>
<circle cx="78.71" cy="477.90" r="1.15" fill="none" stroke="#BF0C38" stroke-width="0.85"/>
<circle cx="80.33" cy="477.90" r="1.15" fill="none" stroke="#BF0C38" stroke-width="0.85"/>
<circle cx="81.96" cy="477.90" r="1.15" fill="none" stroke="#BF0C38" stroke-width="0.85"/>
<circle cx="83.58" cy="477.90" r="1.15" fill="none" stroke="#BF0C38" stroke-width="0.85"/>
<circle cx="85.20" cy="477.90" r="1.15" fill="none" stroke="#BF0C38" stroke-width="0.85"/>
<circle cx="86.82" cy="477.90" r="1.15" fill="none" stroke="#BF0C38" stroke-width="0.85"/>
<circle cx="88.44" cy="477.90" r="1.15" fill="none" stroke="#BF0C38" stroke-width="0.85"/>
<circle cx="90.07" cy="477.90" r="1.15" fill="none" stroke="#BF0C38" stroke-width="0.85"/>
<circle cx="91.69" cy="477.90" r="1.15" fill="none" stroke="#BF0C38" stroke-width="0.85"/>
<circle cx="93.31" cy="477.90" r="1.15" fill="none" stroke="#BF0C38" stroke-width="0.85"/>
<circle cx="94.93" cy="477.90" r="1.15" fill="none" stroke="#BF0C38" stroke-width="0.85"/>
<circle cx="96.56" cy="477.90" r="1.15" fill="none" stroke="#BF0C38" stroke-width="0.85"/>
<circle cx="98.18" cy="477.90" r="1.15" fill="none" stroke="#BF0C38" stroke-width="0.85"/>
<circle cx="99.80" cy="477.90" r="1.15" fill="none" stroke="#BF0C38" stroke-width="0.85"/>
<circle cx="101.42" cy="477.90" r="1.15" fill="none" stroke="#BF0C38" stroke-width="0.85"/>
<circle cx="103.04" cy="477.90" r="1.15" fill="none" stroke="#BF0C38" stroke-width="0.85"/>
<circle cx="104.67" cy="477.90" r="1.15" fill="none" stroke="#BF0C38" stroke-width="0.85"/>
<circle cx="106.29" cy="477.90" r="1.15" fill="none" stroke="#BF0C38" stroke-width="0.85"/>
<circle cx="107.91" cy="477.90" r="1.15" fill="none" stroke="#BF0C38" stroke-width="0.85"/>
<circle cx="109.53" cy="477.90" r="1.15" fill="none" stroke="#BF0C38" stroke-width="0.85"/>
<circle cx="111.16" cy="477.90" r="1.15" fill="none" stroke="#BF0C38" stroke-width="0.85"/>
<circle cx="112.78" cy="477.90" r="1.15" fill="none" stroke="#BF0C38" stroke-width="0.85"/>
<circle cx="114.40" cy="477.90" r="1.15" fill="none" stroke="#BF0C38" stroke-width="0.85"/>
<circle cx="116.02" cy="477.90" r="1.15" fill="none" stroke="#BF0C38" stroke-width="0.85"/>
<circle cx="117.64" cy="477.90" r="1.15" fill="none" stroke="#BF0C38" stroke-width="0.85"/>
<circle cx="119.27" cy="477.90" r="1.15" fill="none" stroke="#BF0C38" stroke-width="0.85"/>
<circle cx="120.89" cy="477.90" r="1.15" fill="none" stroke="#BF0C38" stroke-width="0.85"/>
<circle cx="122.51" cy="477.90" r="1.15" fill="none" stroke="#BF0C38" stroke-width="0.85"/>
<circle cx="124.13" cy="477.90" r="1.15" fill="none" stroke="#BF0C38" stroke-width="0.85"/>
<circle cx="125.76" cy="477.90" r="1.15" fill="none" stroke="#BF0C38" stroke-width="0.85"/>
<circle cx="127.38" cy="477.90" r="1.15" fill="none" stroke="#BF0C38" stroke-width="0.85"/>
<circle cx="129.00" cy="477.90" r="1.15" fill="none" stroke="#BF0C38" stroke-width="0.85"/>
<circle cx="133.70" cy="477.90" r="1.15" fill="none" stroke="#BF0C38" stroke-width="0.85"/>
<circle cx="141.20" cy="477.90" r="1.15" fill="none" stroke="#BF0C38" stroke-width="0.85"/>
<circle cx="146.00" cy="477.90" r="1.15" fill="none" stroke="#BF0C38" stroke-width="0.85"/>
<circle cx="148.60" cy="477.90" r="1.15" fill="none" stroke="#BF0C38" stroke-width="0.85"/>
<circle cx="153.70" cy="477.90" r="1.15" fill="none" stroke="#BF0C38" stroke-width="0.85"/>
<circle cx="76.00" cy="595.00" r="1.15" fill="none" stroke="#BF0C38" stroke-width="0.85"/>
<circle cx="80.00" cy="595.00" r="1.15" fill="none" stroke="#BF0C38" stroke-width="0.85"/>
<circle cx="82.90" cy="595.00" r="1.15" fill="none" stroke="#BF0C38" stroke-width="0.85"/>
<circle cx="84.47" cy="595.00" r="1.15" fill="none" stroke="#BF0C38" stroke-width="0.85"/>
<circle cx="86.03" cy="595.00" r="1.15" fill="none" stroke="#BF0C38" stroke-width="0.85"/>
<circle cx="87.60" cy="595.00" r="1.15" fill="none" stroke="#BF0C38" stroke-width="0.85"/>
<circle cx="89.17" cy="595.00" r="1.15" fill="none" stroke="#BF0C38" stroke-width="0.85"/>
<circle cx="90.73" cy="595.00" r="1.15" fill="none" stroke="#BF0C38" stroke-width="0.85"/>
<circle cx="92.30" cy="595.00" r="1.15" fill="none" stroke="#BF0C38" stroke-width="0.85"/>
<circle cx="93.87" cy="595.00" r="1.15" fill="none" stroke="#BF0C38" stroke-width="0.85"/>
<circle cx="95.43" cy="595.00" r="1.15" fill="none" stroke="#BF0C38" stroke-width="0.85"/>
<circle cx="97.00" cy="595.00" r="1.15" fill="none" stroke="#BF0C38" stroke-width="0.85"/>
<circle cx="98.57" cy="595.00" r="1.15" fill="none" stroke="#BF0C38" stroke-width="0.85"/>
<circle cx="100.13" cy="595.00" r="1.15" fill="none" stroke="#BF0C38" stroke-width="0.85"/>
<circle cx="101.70" cy="595.00" r="1.15" fill="none" stroke="#BF0C38" stroke-width="0.85"/>
<circle cx="103.27" cy="595.00" r="1.15" fill="none" stroke="#BF0C38" stroke-width="0.85"/>
<circle cx="104.83" cy="595.00" r="1.15" fill="none" stroke="#BF0C38" stroke-width="0.85"/>
<circle cx="106.40" cy="595.00" r="1.15" fill="none" stroke="#BF0C38" stroke-width="0.85"/>
<circle cx="107.97" cy="595.00" r="1.15" fill="none" stroke="#BF0C38" stroke-width="0.85"/>
<circle cx="109.53" cy="595.00" r="1.15" fill="none" stroke="#BF0C38" stroke-width="0.85"/>
<circle cx="111.10" cy="595.00" r="1.15" fill="none" stroke="#BF0C38" stroke-width="0.85"/>
<circle cx="112.67" cy="595.00" r="1.15" fill="none" stroke="#BF0C38" stroke-width="0.85"/>
<circle cx="114.23" cy="595.00" r="1.15" fill="none" stroke="#BF0C38" stroke-width="0.85"/>
<circle cx="115.80" cy="595.00" r="1.15" fill="none" stroke="#BF0C38" stroke-width="0.85"/>
<circle cx="122.00" cy="595.00" r="1.15" fill="none" stroke="#BF0C38" stroke-width="0.85"/>
<circle cx="124.50" cy="595.00" r="1.15" fill="none" stroke="#BF0C38" stroke-width="0.85"/>
<circle cx="127.00" cy="595.00" r="1.15" fill="none" stroke="#BF0C38" stroke-width="0.85"/>
<circle cx="129.50" cy="595.00" r="1.15" fill="none" stroke="#BF0C38" stroke-width="0.85"/>
<circle cx="144.00" cy="595.00" r="1.15" fill="none" stroke="#BF0C38" stroke-width="0.85"/>
<circle cx="152.30" cy="595.00" r="1.15" fill="none" stroke="#BF0C38" stroke-width="0.85"/>
<circle cx="241.40" cy="595.00" r="1.15" fill="none" stroke="#BF0C38" stroke-width="0.85"/>
<path d="M71.4,539.78 L72.4,538.64 L73.4,537.60 L74.4,536.64 L75.4,535.76 L76.4,534.94 L77.4,534.17 L78.4,533.45 L79.4,532.77 L80.4,532.13 L81.4,531.53 L82.4,530.95 L83.4,530.41 L84.4,529.88 L85.4,529.39 L86.4,528.91 L87.4,528.45 L88.4,528.01 L89.4,527.59 L90.4,527.19 L91.4,526.79 L92.4,526.42 L93.4,526.05 L94.4,525.70 L95.4,525.36 L96.4,525.03 L97.4,524.71 L98.4,524.40 L99.4,524.09 L100.4,523.80 L101.4,523.52 L102.4,523.24 L103.4,522.97 L104.4,522.71 L105.4,522.45 L106.4,522.20 L107.4,521.95 L108.4,521.72 L109.4,521.48 L110.4,521.25 L111.4,521.03 L112.4,520.81 L113.4,520.60 L114.4,520.39 L115.4,520.19 L116.4,519.99 L117.4,519.79 L118.4,519.60 L119.4,519.41 L120.4,519.23 L121.4,519.05 L122.4,518.87 L123.4,518.69 L124.4,518.52 L125.4,518.35 L126.4,518.19 L127.4,518.02 L128.4,517.87 L129.4,517.71 L130.4,517.55 L131.4,517.40 L132.4,517.25 L133.4,517.10 L134.4,516.96 L135.4,516.82 L136.4,516.68 L137.4,516.54 L138.4,516.42 L139.4,516.28 L140.4,516.15 L141.4,516.02 L142.4,515.89 L143.4,515.76 L144.4,515.64 L145.4,515.51 L146.4,515.39 L147.4,515.27 L148.4,515.16 L149.4,515.04 L150.4,514.93 L151.4,514.83 L152.4,514.72 L153.4,514.63 L154.4,514.53 L155.4,514.44 L156.4,514.36 L157.4,514.28 L158.4,514.20 L159.4,514.12 L160.4,514.05 L161.4,513.97 L162.4,513.90 L163.4,513.82 L164.4,513.75 L165.4,513.68 L166.4,513.60 L167.4,513.53 L168.4,513.46 L169.4,513.38 L170.4,513.31 L171.4,513.24 L172.4,513.17 L173.4,513.09 L174.4,513.02 L175.4,512.95 L176.4,512.87 L177.4,512.80 L178.4,512.73 L179.4,512.65 L180.4,512.58 L181.4,512.51 L182.4,512.43 L183.4,512.36 L184.4,512.29 L185.4,512.21 L186.4,512.14 L187.4,512.07 L188.4,512.00 L189.4,511.92 L190.4,511.85 L191.4,511.78 L192.4,511.70 L193.4,511.63 L194.4,511.56 L195.4,511.48 L196.4,511.41 L197.4,511.34 L198.4,511.26 L199.4,511.19 L200.4,511.12 L201.4,511.04 L202.4,510.97 L203.4,510.90 L204.4,510.83 L205.4,510.75 L206.4,510.68 L207.4,510.61 L208.4,510.53 L209.4,510.46 L210.4,510.39 L211.4,510.31 L212.4,510.24 L213.4,510.17 L214.4,510.09 L215.4,510.02 L216.4,509.95 L217.4,509.87 L218.4,509.80 L219.4,509.73 L220.4,509.66 L221.4,509.58 L222.4,509.51 L223.4,509.44 L224.4,509.36 L225.4,509.29 L226.4,509.22 L227.4,509.14 L228.4,509.07 L229.4,509.00 L230.4,508.92 L231.4,508.85 L232.4,508.78 L233.4,508.70 L234.4,508.63 L235.4,508.56 L236.4,508.49 L237.4,508.41 L238.4,508.34 L239.4,508.27 L240.4,508.19 L241.4,508.12" fill="none" stroke="#BA2349" stroke-width="1.3"/>
<path d="M71.4,507.97 L72.4,508.76 L73.4,509.48 L74.4,510.13 L75.4,510.74 L76.4,511.30 L77.4,511.81 L78.4,512.29 L79.4,512.73 L80.4,513.13 L81.4,513.50 L82.4,513.84 L83.4,514.14 L84.4,514.42 L85.4,514.67 L86.4,514.88 L87.4,515.07 L88.4,515.23 L89.4,515.36 L90.4,515.45 L91.4,515.52 L92.4,515.56 L93.4,515.56 L94.4,515.53 L95.4,515.48 L96.4,515.39 L97.4,515.27 L98.4,515.12 L99.4,514.94 L100.4,514.74 L101.4,514.52 L102.4,514.26 L103.4,513.99 L104.4,513.70 L105.4,513.39 L106.4,513.07 L107.4,512.74 L108.4,512.40 L109.4,512.05 L110.4,511.69 L111.4,511.33 L112.4,510.96 L113.4,510.59 L114.4,510.22 L115.4,509.86 L116.4,509.49 L117.4,509.12 L118.4,508.76 L119.4,508.40 L120.4,508.04 L121.4,507.69 L122.4,507.34 L123.4,506.99 L124.4,506.65 L125.4,506.31 L126.4,505.98 L127.4,505.65 L128.4,505.33 L129.4,505.01 L130.4,504.70 L131.4,504.39 L132.4,504.09 L133.4,503.80 L134.4,503.50 L135.4,503.22 L136.4,502.93 L137.4,502.65 L138.4,502.42 L139.4,502.15 L140.4,501.89 L141.4,501.63 L142.4,501.37 L143.4,501.12 L144.4,500.88 L145.4,500.63 L146.4,500.40 L147.4,500.17 L148.4,499.94 L149.4,499.73 L150.4,499.52 L151.4,499.32 L152.4,499.13 L153.4,498.95 L154.4,498.79 L155.4,498.63 L156.4,498.49 L157.4,498.35 L158.4,498.22 L159.4,498.09 L160.4,497.97 L161.4,497.85 L162.4,497.73 L163.4,497.61 L164.4,497.49 L165.4,497.38 L166.4,497.26 L167.4,497.14 L168.4,497.03 L169.4,496.91 L170.4,496.79 L171.4,496.68 L172.4,496.56 L173.4,496.44 L174.4,496.33 L175.4,496.21 L176.4,496.09 L177.4,495.98 L178.4,495.86 L179.4,495.75 L180.4,495.63 L181.4,495.51 L182.4,495.40 L183.4,495.28 L184.4,495.16 L185.4,495.05 L186.4,494.93 L187.4,494.81 L188.4,494.70 L189.4,494.58 L190.4,494.46 L191.4,494.35 L192.4,494.23 L193.4,494.11 L194.4,494.00 L195.4,493.88 L196.4,493.76 L197.4,493.65 L198.4,493.53 L199.4,493.41 L200.4,493.30 L201.4,493.18 L202.4,493.06 L203.4,492.95 L204.4,492.83 L205.4,492.72 L206.4,492.60 L207.4,492.48 L208.4,492.37 L209.4,492.25 L210.4,492.13 L211.4,492.02 L212.4,491.90 L213.4,491.78 L214.4,491.67 L215.4,491.55 L216.4,491.43 L217.4,491.32 L218.4,491.20 L219.4,491.08 L220.4,490.97 L221.4,490.85 L222.4,490.73 L223.4,490.62 L224.4,490.50 L225.4,490.38 L226.4,490.27 L227.4,490.15 L228.4,490.03 L229.4,489.92 L230.4,489.80 L231.4,489.68 L232.4,489.57 L233.4,489.45 L234.4,489.34 L235.4,489.22 L236.4,489.10 L237.4,488.99 L238.4,488.87 L239.4,488.75 L240.4,488.64 L241.4,488.52" fill="none" stroke="#BA2349" stroke-width="1.3" stroke-dasharray="4.0,2.6"/>
<path d="M71.4,569.75 L72.4,567.43 L73.4,565.21 L74.4,563.07 L75.4,561.03 L76.4,559.08 L77.4,557.20 L78.4,555.42 L79.4,553.71 L80.4,552.09 L81.4,550.53 L82.4,549.06 L83.4,547.66 L84.4,546.32 L85.4,545.06 L86.4,543.86 L87.4,542.73 L88.4,541.66 L89.4,540.66 L90.4,539.73 L91.4,538.85 L92.4,538.03 L93.4,537.27 L94.4,536.57 L95.4,535.93 L96.4,535.35 L97.4,534.82 L98.4,534.34 L99.4,533.92 L100.4,533.54 L101.4,533.20 L102.4,532.91 L103.4,532.66 L104.4,532.45 L105.4,532.27 L106.4,532.11 L107.4,531.99 L108.4,531.89 L109.4,531.82 L110.4,531.77 L111.4,531.73 L112.4,531.71 L113.4,531.71 L114.4,531.71 L115.4,531.73 L116.4,531.77 L117.4,531.80 L118.4,531.85 L119.4,531.91 L120.4,531.96 L121.4,532.03 L122.4,532.10 L123.4,532.18 L124.4,532.26 L125.4,532.34 L126.4,532.42 L127.4,532.51 L128.4,532.60 L129.4,532.69 L130.4,532.79 L131.4,532.88 L132.4,532.98 L133.4,533.07 L134.4,533.17 L135.4,533.27 L136.4,533.37 L137.4,533.47 L138.4,533.57 L139.4,533.67 L140.4,533.77 L141.4,533.87 L142.4,533.97 L143.4,534.07 L144.4,534.17 L145.4,534.27 L146.4,534.37 L147.4,534.47 L148.4,534.57 L149.4,534.67 L150.4,534.76 L151.4,534.86 L152.4,534.95 L153.4,535.04 L154.4,535.12 L155.4,535.21 L156.4,535.29 L157.4,535.37 L158.4,535.45 L159.4,535.53 L160.4,535.61 L161.4,535.69 L162.4,535.76 L163.4,535.84 L164.4,535.92 L165.4,535.99 L166.4,536.07 L167.4,536.14 L168.4,536.22 L169.4,536.30 L170.4,536.37 L171.4,536.45 L172.4,536.53 L173.4,536.60 L174.4,536.68 L175.4,536.76 L176.4,536.83 L177.4,536.91 L178.4,536.98 L179.4,537.06 L180.4,537.14 L181.4,537.21 L182.4,537.29 L183.4,537.37 L184.4,537.44 L185.4,537.52 L186.4,537.60 L187.4,537.67 L188.4,537.75 L189.4,537.82 L190.4,537.90 L191.4,537.98 L192.4,538.05 L193.4,538.13 L194.4,538.21 L195.4,538.28 L196.4,538.36 L197.4,538.44 L198.4,538.51 L199.4,538.59 L200.4,538.67 L201.4,538.74 L202.4,538.82 L203.4,538.89 L204.4,538.97 L205.4,539.05 L206.4,539.12 L207.4,539.20 L208.4,539.28 L209.4,539.35 L210.4,539.43 L211.4,539.51 L212.4,539.58 L213.4,539.66 L214.4,539.73 L215.4,539.81 L216.4,539.89 L217.4,539.96 L218.4,540.04 L219.4,540.12 L220.4,540.19 L221.4,540.27 L222.4,540.35 L223.4,540.42 L224.4,540.50 L225.4,540.57 L226.4,540.65 L227.4,540.73 L228.4,540.80 L229.4,540.88 L230.4,540.96 L231.4,541.03 L232.4,541.11 L233.4,541.19 L234.4,541.26 L235.4,541.34 L236.4,541.41 L237.4,541.49 L238.4,541.57 L239.4,541.64 L240.4,541.72 L241.4,541.80" fill="none" stroke="#BA2349" stroke-width="1.3" stroke-dasharray="4.0,2.6"/>
<line x1="86.80" y1="510.68" x2="86.80" y2="552.52" stroke="#222" stroke-width="1.1"/>
<line x1="84.60" y1="510.68" x2="89.00" y2="510.68" stroke="#222" stroke-width="1.1"/>
<line x1="84.60" y1="552.52" x2="89.00" y2="552.52" stroke="#222" stroke-width="1.1"/>
<circle cx="86.80" cy="531.10" r="1.7" fill="#B8002A"/>
<line x1="100.10" y1="509.60" x2="100.10" y2="550.71" stroke="#222" stroke-width="1.1"/>
<line x1="97.90" y1="509.60" x2="102.30" y2="509.60" stroke="#222" stroke-width="1.1"/>
<line x1="97.90" y1="550.71" x2="102.30" y2="550.71" stroke="#222" stroke-width="1.1"/>
<circle cx="100.10" cy="529.53" r="1.7" fill="#B8002A"/>
<line x1="112.20" y1="503.69" x2="112.20" y2="544.03" stroke="#222" stroke-width="1.1"/>
<line x1="110.00" y1="503.69" x2="114.40" y2="503.69" stroke="#222" stroke-width="1.1"/>
<line x1="110.00" y1="544.03" x2="114.40" y2="544.03" stroke="#222" stroke-width="1.1"/>
<circle cx="112.20" cy="522.60" r="1.7" fill="#B8002A"/>
<line x1="124.40" y1="492.76" x2="124.40" y2="529.81" stroke="#222" stroke-width="1.1"/>
<line x1="122.20" y1="492.76" x2="126.60" y2="492.76" stroke="#222" stroke-width="1.1"/>
<line x1="122.20" y1="529.81" x2="126.60" y2="529.81" stroke="#222" stroke-width="1.1"/>
<circle cx="124.40" cy="508.76" r="1.7" fill="#B8002A"/>
<text x="87.10" y="572.20" font-size="5.9" text-anchor="middle" font-weight="normal" fill="#2a2a2a" stroke="#2a2a2a" stroke-width="0.08">18/33</text>
<text x="100.40" y="564.20" font-size="5.9" text-anchor="middle" font-weight="normal" fill="#2a2a2a" stroke="#2a2a2a" stroke-width="0.08">19/34</text>
<text x="112.50" y="572.20" font-size="5.9" text-anchor="middle" font-weight="normal" fill="#2a2a2a" stroke="#2a2a2a" stroke-width="0.08">21/34</text>
<text x="124.50" y="564.40" font-size="5.9" text-anchor="middle" font-weight="normal" fill="#2a2a2a" stroke="#2a2a2a" stroke-width="0.08">25/34</text>
<text x="140.50" y="543.20" font-size="5.6" text-anchor="start" font-weight="normal" fill="#222" textLength="53.30" lengthAdjust="spacingAndGlyphs" stroke="#222" stroke-width="0.1">Range of each quartile</text>
<text x="140.50" y="549.80" font-size="5.6" text-anchor="start" font-weight="normal" fill="#222" stroke="#222" stroke-width="0.1">Q1: 0.37 - 1.24</text>
<text x="140.50" y="556.40" font-size="5.6" text-anchor="start" font-weight="normal" fill="#222" stroke="#222" stroke-width="0.1">Q2: 1.24 - 1.63</text>
<text x="140.50" y="563.00" font-size="5.6" text-anchor="start" font-weight="normal" fill="#222" stroke="#222" stroke-width="0.1">Q3: 1.67 - 2.08</text>
<text x="140.50" y="569.60" font-size="5.6" text-anchor="start" font-weight="normal" fill="#222" stroke="#222" stroke-width="0.1">Q4: 2.09 - 6.79</text>
<text x="140.50" y="583.20" font-size="5.6" text-anchor="start" font-weight="normal" fill="#222" stroke="#222" stroke-width="0.1">Odds ratio at doubling of dose [95% CI]</text>
<text x="140.50" y="589.60" font-size="5.6" text-anchor="start" font-weight="normal" fill="#222" stroke="#222" stroke-width="0.1">1.307 [0.761, 2.244]</text>
<circle cx="55.50" cy="635.40" r="1.4" fill="none" stroke="#BF0C38" stroke-width="0.9"/>
<text x="60.50" y="638.20" font-size="7.8" text-anchor="start" font-weight="normal" fill="#111" textLength="49.60" lengthAdjust="spacingAndGlyphs" stroke="#111" stroke-width="0.2">Observed data</text>
<circle cx="55.50" cy="647.30" r="1.6" fill="#B8002A"/>
<text x="60.50" y="650.10" font-size="7.8" text-anchor="start" font-weight="normal" fill="#111" textLength="102.30" lengthAdjust="spacingAndGlyphs" stroke="#111" stroke-width="0.2">Observed proportion (95% CI)</text>
<line x1="166.20" y1="635.30" x2="184.60" y2="635.30" stroke="#BA2349" stroke-width="1.3"/>
<text x="188.30" y="638.10" font-size="7.8" text-anchor="start" font-weight="normal" fill="#111" textLength="62.80" lengthAdjust="spacingAndGlyphs" stroke="#111" stroke-width="0.2">Logistic regression</text>
<text x="266.60" y="472.20" font-size="11.9" text-anchor="start" font-weight="bold" fill="#000" stroke="#000" stroke-width="0.5">F</text>
<text x="414.00" y="470.00" font-size="8.4" text-anchor="middle" font-weight="normal" fill="#111" stroke="#111" stroke-width="0.2">CRS</text>
<line x1="319.90" y1="594.50" x2="323.10" y2="594.50" stroke="#111" stroke-width="1.0"/>
<text x="316.70" y="597.45" font-size="8.3" text-anchor="end" font-weight="normal" fill="#111" stroke="#111" stroke-width="0.2">0</text>
<line x1="319.90" y1="582.81" x2="323.10" y2="582.81" stroke="#111" stroke-width="1.0"/>
<line x1="319.90" y1="571.12" x2="323.10" y2="571.12" stroke="#111" stroke-width="1.0"/>
<text x="316.70" y="574.07" font-size="8.3" text-anchor="end" font-weight="normal" fill="#111" stroke="#111" stroke-width="0.2">20</text>
<line x1="319.90" y1="559.43" x2="323.10" y2="559.43" stroke="#111" stroke-width="1.0"/>
<line x1="319.90" y1="547.74" x2="323.10" y2="547.74" stroke="#111" stroke-width="1.0"/>
<text x="316.70" y="550.69" font-size="8.3" text-anchor="end" font-weight="normal" fill="#111" stroke="#111" stroke-width="0.2">40</text>
<line x1="319.90" y1="536.05" x2="323.10" y2="536.05" stroke="#111" stroke-width="1.0"/>
<line x1="319.90" y1="524.36" x2="323.10" y2="524.36" stroke="#111" stroke-width="1.0"/>
<text x="316.70" y="527.31" font-size="8.3" text-anchor="end" font-weight="normal" fill="#111" stroke="#111" stroke-width="0.2">60</text>
<line x1="319.90" y1="512.67" x2="323.10" y2="512.67" stroke="#111" stroke-width="1.0"/>
<line x1="319.90" y1="500.98" x2="323.10" y2="500.98" stroke="#111" stroke-width="1.0"/>
<text x="316.70" y="503.93" font-size="8.3" text-anchor="end" font-weight="normal" fill="#111" stroke="#111" stroke-width="0.2">80</text>
<line x1="319.90" y1="489.29" x2="323.10" y2="489.29" stroke="#111" stroke-width="1.0"/>
<line x1="319.90" y1="477.60" x2="323.10" y2="477.60" stroke="#111" stroke-width="1.0"/>
<text x="316.70" y="480.55" font-size="8.3" text-anchor="end" font-weight="normal" fill="#111" stroke="#111" stroke-width="0.2">100</text>
<line x1="324.20" y1="597.40" x2="324.20" y2="600.60" stroke="#111" stroke-width="1.0"/>
<text x="324.20" y="611.20" font-size="8.3" text-anchor="middle" font-weight="normal" fill="#111" stroke="#111" stroke-width="0.2">0</text>
<line x1="376.76" y1="597.40" x2="376.76" y2="600.60" stroke="#111" stroke-width="1.0"/>
<text x="376.76" y="611.20" font-size="8.3" text-anchor="middle" font-weight="normal" fill="#111" stroke="#111" stroke-width="0.2">2</text>
<line x1="429.32" y1="597.40" x2="429.32" y2="600.60" stroke="#111" stroke-width="1.0"/>
<text x="429.32" y="611.20" font-size="8.3" text-anchor="middle" font-weight="normal" fill="#111" stroke="#111" stroke-width="0.2">4</text>
<line x1="481.88" y1="597.40" x2="481.88" y2="600.60" stroke="#111" stroke-width="1.0"/>
<text x="481.88" y="611.20" font-size="8.3" text-anchor="middle" font-weight="normal" fill="#111" stroke="#111" stroke-width="0.2">6</text>
<rect x="323.10" y="475.50" width="181.80" height="121.90" fill="none" stroke="#111" stroke-width="1.15"/>
<text transform="translate(285.00,535.50) rotate(-90)" x="0" y="0" font-size="10.4" text-anchor="middle" fill="#1a1a1a" stroke="#1a1a1a" stroke-width="0.3" textLength="95.30" lengthAdjust="spacingAndGlyphs">Proportion of subjects with any</text>
<text transform="translate(296.00,534.70) rotate(-90)" x="0" y="0" font-size="10.4" text-anchor="middle" fill="#1a1a1a" stroke="#1a1a1a" stroke-width="0.3" textLength="42.80" lengthAdjust="spacingAndGlyphs">grade CRS, %</text>
<text x="414.00" y="625.20" font-size="9.6" text-anchor="middle" font-weight="normal" fill="#1a1a1a" textLength="67.70" lengthAdjust="spacingAndGlyphs" stroke="#1a1a1a" stroke-width="0.35">Total dose (10E8 cells)</text>
<circle cx="335.50" cy="477.90" r="1.15" fill="none" stroke="#BF0C38" stroke-width="0.85"/>
<circle cx="341.90" cy="477.90" r="1.15" fill="none" stroke="#BF0C38" stroke-width="0.85"/>
<circle cx="343.60" cy="477.90" r="1.15" fill="none" stroke="#BF0C38" stroke-width="0.85"/>
<circle cx="350.50" cy="477.90" r="1.15" fill="none" stroke="#BF0C38" stroke-width="0.85"/>
<circle cx="354.50" cy="477.90" r="1.15" fill="none" stroke="#BF0C38" stroke-width="0.85"/>
<circle cx="356.10" cy="477.90" r="1.15" fill="none" stroke="#BF0C38" stroke-width="0.85"/>
<circle cx="357.69" cy="477.90" r="1.15" fill="none" stroke="#BF0C38" stroke-width="0.85"/>
<circle cx="359.29" cy="477.90" r="1.15" fill="none" stroke="#BF0C38" stroke-width="0.85"/>
<circle cx="360.88" cy="477.90" r="1.15" fill="none" stroke="#BF0C38" stroke-width="0.85"/>
<circle cx="362.48" cy="477.90" r="1.15" fill="none" stroke="#BF0C38" stroke-width="0.85"/>
<circle cx="364.07" cy="477.90" r="1.15" fill="none" stroke="#BF0C38" stroke-width="0.85"/>
<circle cx="365.67" cy="477.90" r="1.15" fill="none" stroke="#BF0C38" stroke-width="0.85"/>
<circle cx="367.27" cy="477.90" r="1.15" fill="none" stroke="#BF0C38" stroke-width="0.85"/>
<circle cx="368.86" cy="477.90" r="1.15" fill="none" stroke="#BF0C38" stroke-width="0.85"/>
<circle cx="370.46" cy="477.90" r="1.15" fill="none" stroke="#BF0C38" stroke-width="0.85"/>
<circle cx="372.05" cy="477.90" r="1.15" fill="none" stroke="#BF0C38" stroke-width="0.85"/>
<circle cx="373.65" cy="477.90" r="1.15" fill="none" stroke="#BF0C38" stroke-width="0.85"/>
<circle cx="375.24" cy="477.90" r="1.15" fill="none" stroke="#BF0C38" stroke-width="0.85"/>
<circle cx="376.84" cy="477.90" r="1.15" fill="none" stroke="#BF0C38" stroke-width="0.85"/>
<circle cx="378.43" cy="477.90" r="1.15" fill="none" stroke="#BF0C38" stroke-width="0.85"/>
<circle cx="380.03" cy="477.90" r="1.15" fill="none" stroke="#BF0C38" stroke-width="0.85"/>
<circle cx="381.63" cy="477.90" r="1.15" fill="none" stroke="#BF0C38" stroke-width="0.85"/>
<circle cx="383.22" cy="477.90" r="1.15" fill="none" stroke="#BF0C38" stroke-width="0.85"/>
<circle cx="384.82" cy="477.90" r="1.15" fill="none" stroke="#BF0C38" stroke-width="0.85"/>
<circle cx="386.41" cy="477.90" r="1.15" fill="none" stroke="#BF0C38" stroke-width="0.85"/>
<circle cx="388.01" cy="477.90" r="1.15" fill="none" stroke="#BF0C38" stroke-width="0.85"/>
<circle cx="389.60" cy="477.90" r="1.15" fill="none" stroke="#BF0C38" stroke-width="0.85"/>
<circle cx="391.20" cy="477.90" r="1.15" fill="none" stroke="#BF0C38" stroke-width="0.85"/>
<circle cx="395.00" cy="477.90" r="1.15" fill="none" stroke="#BF0C38" stroke-width="0.85"/>
<circle cx="407.60" cy="477.90" r="1.15" fill="none" stroke="#BF0C38" stroke-width="0.85"/>
<circle cx="410.20" cy="477.90" r="1.15" fill="none" stroke="#BF0C38" stroke-width="0.85"/>
<circle cx="415.00" cy="477.90" r="1.15" fill="none" stroke="#BF0C38" stroke-width="0.85"/>
<circle cx="502.70" cy="477.90" r="1.15" fill="none" stroke="#BF0C38" stroke-width="0.85"/>
<circle cx="333.40" cy="594.20" r="1.15" fill="none" stroke="#BF0C38" stroke-width="0.85"/>
<circle cx="338.80" cy="594.20" r="1.15" fill="none" stroke="#BF0C38" stroke-width="0.85"/>
<circle cx="340.39" cy="594.20" r="1.15" fill="none" stroke="#BF0C38" stroke-width="0.85"/>
<circle cx="341.99" cy="594.20" r="1.15" fill="none" stroke="#BF0C38" stroke-width="0.85"/>
<circle cx="343.58" cy="594.20" r="1.15" fill="none" stroke="#BF0C38" stroke-width="0.85"/>
<circle cx="345.17" cy="594.20" r="1.15" fill="none" stroke="#BF0C38" stroke-width="0.85"/>
<circle cx="346.77" cy="594.20" r="1.15" fill="none" stroke="#BF0C38" stroke-width="0.85"/>
<circle cx="348.36" cy="594.20" r="1.15" fill="none" stroke="#BF0C38" stroke-width="0.85"/>
<circle cx="349.95" cy="594.20" r="1.15" fill="none" stroke="#BF0C38" stroke-width="0.85"/>
<circle cx="351.54" cy="594.20" r="1.15" fill="none" stroke="#BF0C38" stroke-width="0.85"/>
<circle cx="353.14" cy="594.20" r="1.15" fill="none" stroke="#BF0C38" stroke-width="0.85"/>
<circle cx="354.73" cy="594.20" r="1.15" fill="none" stroke="#BF0C38" stroke-width="0.85"/>
<circle cx="356.32" cy="594.20" r="1.15" fill="none" stroke="#BF0C38" stroke-width="0.85"/>
<circle cx="357.92" cy="594.20" r="1.15" fill="none" stroke="#BF0C38" stroke-width="0.85"/>
<circle cx="359.51" cy="594.20" r="1.15" fill="none" stroke="#BF0C38" stroke-width="0.85"/>
<circle cx="361.10" cy="594.20" r="1.15" fill="none" stroke="#BF0C38" stroke-width="0.85"/>
<circle cx="362.70" cy="594.20" r="1.15" fill="none" stroke="#BF0C38" stroke-width="0.85"/>
<circle cx="364.29" cy="594.20" r="1.15" fill="none" stroke="#BF0C38" stroke-width="0.85"/>
<circle cx="365.88" cy="594.20" r="1.15" fill="none" stroke="#BF0C38" stroke-width="0.85"/>
<circle cx="367.48" cy="594.20" r="1.15" fill="none" stroke="#BF0C38" stroke-width="0.85"/>
<circle cx="369.07" cy="594.20" r="1.15" fill="none" stroke="#BF0C38" stroke-width="0.85"/>
<circle cx="370.66" cy="594.20" r="1.15" fill="none" stroke="#BF0C38" stroke-width="0.85"/>
<circle cx="372.26" cy="594.20" r="1.15" fill="none" stroke="#BF0C38" stroke-width="0.85"/>
<circle cx="373.85" cy="594.20" r="1.15" fill="none" stroke="#BF0C38" stroke-width="0.85"/>
<circle cx="375.44" cy="594.20" r="1.15" fill="none" stroke="#BF0C38" stroke-width="0.85"/>
<circle cx="377.03" cy="594.20" r="1.15" fill="none" stroke="#BF0C38" stroke-width="0.85"/>
<circle cx="378.63" cy="594.20" r="1.15" fill="none" stroke="#BF0C38" stroke-width="0.85"/>
<circle cx="380.22" cy="594.20" r="1.15" fill="none" stroke="#BF0C38" stroke-width="0.85"/>
<circle cx="381.81" cy="594.20" r="1.15" fill="none" stroke="#BF0C38" stroke-width="0.85"/>
<circle cx="383.41" cy="594.20" r="1.15" fill="none" stroke="#BF0C38" stroke-width="0.85"/>
<circle cx="385.00" cy="594.20" r="1.15" fill="none" stroke="#BF0C38" stroke-width="0.85"/>
<circle cx="389.40" cy="594.20" r="1.15" fill="none" stroke="#BF0C38" stroke-width="0.85"/>
<circle cx="402.90" cy="594.20" r="1.15" fill="none" stroke="#BF0C38" stroke-width="0.85"/>
<circle cx="405.10" cy="594.20" r="1.15" fill="none" stroke="#BF0C38" stroke-width="0.85"/>
<circle cx="413.30" cy="594.20" r="1.15" fill="none" stroke="#BF0C38" stroke-width="0.85"/>
<path d="M333.9,585.94 L334.9,584.67 L335.9,583.37 L336.9,582.04 L337.9,580.69 L338.9,579.33 L339.9,577.95 L340.9,576.56 L341.9,575.17 L342.9,573.78 L343.9,572.38 L344.9,571.00 L345.9,569.61 L346.9,568.24 L347.9,566.87 L348.9,565.52 L349.9,564.17 L350.9,562.84 L351.9,561.53 L352.9,560.23 L353.9,558.95 L354.9,557.68 L355.9,556.44 L356.9,555.21 L357.9,554.00 L358.9,552.81 L359.9,551.63 L360.9,550.48 L361.9,549.35 L362.9,548.23 L363.9,547.14 L364.9,546.06 L365.9,545.00 L366.9,543.97 L367.9,542.95 L368.9,541.95 L369.9,540.97 L370.9,540.01 L371.9,539.06 L372.9,538.14 L373.9,537.23 L374.9,536.34 L375.9,535.47 L376.9,534.61 L377.9,533.77 L378.9,532.95 L379.9,532.14 L380.9,531.35 L381.9,530.58 L382.9,529.82 L383.9,529.07 L384.9,528.34 L385.9,527.62 L386.9,526.92 L387.9,526.23 L388.9,525.55 L389.9,524.90 L390.9,524.24 L391.9,523.61 L392.9,522.98 L393.9,522.37 L394.9,521.77 L395.9,521.18 L396.9,520.60 L397.9,520.04 L398.9,519.57 L399.9,519.02 L400.9,518.48 L401.9,517.96 L402.9,517.44 L403.9,516.93 L404.9,516.44 L405.9,515.95 L406.9,515.47 L407.9,515.01 L408.9,514.56 L409.9,514.12 L410.9,513.70 L411.9,513.29 L412.9,512.91 L413.9,512.55 L414.9,512.21 L415.9,511.90 L416.9,511.61 L417.9,511.33 L418.9,511.07 L419.9,510.83 L420.9,510.59 L421.9,510.36 L422.9,510.13 L423.9,509.91 L424.9,509.69 L425.9,509.47 L426.9,509.25 L427.9,509.03 L428.9,508.81 L429.9,508.59 L430.9,508.37 L431.9,508.15 L432.9,507.93 L433.9,507.71 L434.9,507.49 L435.9,507.27 L436.9,507.05 L437.9,506.83 L438.9,506.61 L439.9,506.39 L440.9,506.17 L441.9,505.95 L442.9,505.73 L443.9,505.51 L444.9,505.29 L445.9,505.07 L446.9,504.85 L447.9,504.63 L448.9,504.42 L449.9,504.20 L450.9,503.98 L451.9,503.76 L452.9,503.54 L453.9,503.32 L454.9,503.10 L455.9,502.88 L456.9,502.66 L457.9,502.44 L458.9,502.22 L459.9,502.00 L460.9,501.78 L461.9,501.56 L462.9,501.34 L463.9,501.12 L464.9,500.90 L465.9,500.68 L466.9,500.46 L467.9,500.24 L468.9,500.02 L469.9,499.80 L470.9,499.58 L471.9,499.36 L472.9,499.14 L473.9,498.92 L474.9,498.70 L475.9,498.48 L476.9,498.26 L477.9,498.04 L478.9,497.82 L479.9,497.60 L480.9,497.38 L481.9,497.16 L482.9,496.94 L483.9,496.72 L484.9,496.50 L485.9,496.29 L486.9,496.07 L487.9,495.85 L488.9,495.63 L489.9,495.41 L490.9,495.19 L491.9,494.97 L492.9,494.75 L493.9,494.53 L494.9,494.31 L495.9,494.09 L496.9,493.87 L497.9,493.65 L498.9,493.43 L499.9,493.21 L500.9,492.99 L501.9,492.77" fill="none" stroke="#BA2349" stroke-width="1.3"/>
<path d="M333.9,565.50 L334.9,564.13 L335.9,562.84 L336.9,561.61 L337.9,560.44 L338.9,559.32 L339.9,558.25 L340.9,557.21 L341.9,556.21 L342.9,555.24 L343.9,554.30 L344.9,553.37 L345.9,552.47 L346.9,551.59 L347.9,550.71 L348.9,549.85 L349.9,549.00 L350.9,548.15 L351.9,547.31 L352.9,546.46 L353.9,545.62 L354.9,544.77 L355.9,543.91 L356.9,543.04 L357.9,542.16 L358.9,541.27 L359.9,540.36 L360.9,539.44 L361.9,538.50 L362.9,537.54 L363.9,536.57 L364.9,535.57 L365.9,534.56 L366.9,533.54 L367.9,532.50 L368.9,531.46 L369.9,530.40 L370.9,529.34 L371.9,528.28 L372.9,527.22 L373.9,526.16 L374.9,525.10 L375.9,524.05 L376.9,523.02 L377.9,521.99 L378.9,520.97 L379.9,519.98 L380.9,518.99 L381.9,518.03 L382.9,517.08 L383.9,516.14 L384.9,515.24 L385.9,514.34 L386.9,513.47 L387.9,512.62 L388.9,511.78 L389.9,510.97 L390.9,510.17 L391.9,509.40 L392.9,508.64 L393.9,507.91 L394.9,507.19 L395.9,506.50 L396.9,505.81 L397.9,505.16 L398.9,504.65 L399.9,504.02 L400.9,503.41 L401.9,502.81 L402.9,502.23 L403.9,501.67 L404.9,501.12 L405.9,500.59 L406.9,500.07 L407.9,499.58 L408.9,499.10 L409.9,498.64 L410.9,498.20 L411.9,497.79 L412.9,497.41 L413.9,497.06 L414.9,496.74 L415.9,496.45 L416.9,496.19 L417.9,495.95 L418.9,495.73 L419.9,495.53 L420.9,495.35 L421.9,495.17 L422.9,495.00 L423.9,494.83 L424.9,494.66 L425.9,494.49 L426.9,494.33 L427.9,494.16 L428.9,494.00 L429.9,493.83 L430.9,493.67 L431.9,493.50 L432.9,493.34 L433.9,493.17 L434.9,493.01 L435.9,492.84 L436.9,492.68 L437.9,492.51 L438.9,492.35 L439.9,492.18 L440.9,492.02 L441.9,491.85 L442.9,491.69 L443.9,491.52 L444.9,491.36 L445.9,491.19 L446.9,491.03 L447.9,490.86 L448.9,490.70 L449.9,490.53 L450.9,490.37 L451.9,490.20 L452.9,490.04 L453.9,489.87 L454.9,489.71 L455.9,489.54 L456.9,489.38 L457.9,489.21 L458.9,489.04 L459.9,488.88 L460.9,488.71 L461.9,488.55 L462.9,488.38 L463.9,488.22 L464.9,488.05 L465.9,487.89 L466.9,487.72 L467.9,487.56 L468.9,487.39 L469.9,487.23 L470.9,487.06 L471.9,486.90 L472.9,486.73 L473.9,486.57 L474.9,486.40 L475.9,486.24 L476.9,486.07 L477.9,485.91 L478.9,485.74 L479.9,485.58 L480.9,485.41 L481.9,485.25 L482.9,485.08 L483.9,484.92 L484.9,484.75 L485.9,484.59 L486.9,484.42 L487.9,484.26 L488.9,484.09 L489.9,483.93 L490.9,483.76 L491.9,483.60 L492.9,483.43 L493.9,483.27 L494.9,483.10 L495.9,482.94 L496.9,482.77 L497.9,482.61 L498.9,482.44 L499.9,482.28 L500.9,482.11 L501.9,481.95" fill="none" stroke="#BA2349" stroke-width="1.3" stroke-dasharray="4.0,2.6"/>
<path d="M333.9,592.33 L334.9,591.76 L335.9,591.11 L336.9,590.40 L337.9,589.61 L338.9,588.75 L339.9,587.83 L340.9,586.84 L341.9,585.78 L342.9,584.67 L343.9,583.50 L344.9,582.28 L345.9,581.02 L346.9,579.72 L347.9,578.38 L348.9,577.01 L349.9,575.62 L350.9,574.22 L351.9,572.80 L352.9,571.38 L353.9,569.95 L354.9,568.54 L355.9,567.14 L356.9,565.76 L357.9,564.40 L358.9,563.07 L359.9,561.78 L360.9,560.52 L361.9,559.31 L362.9,558.13 L363.9,557.01 L364.9,555.93 L365.9,554.89 L366.9,553.90 L367.9,552.97 L368.9,552.08 L369.9,551.23 L370.9,550.42 L371.9,549.64 L372.9,548.92 L373.9,548.23 L374.9,547.56 L375.9,546.93 L376.9,546.33 L377.9,545.75 L378.9,545.19 L379.9,544.66 L380.9,544.15 L381.9,543.66 L382.9,543.19 L383.9,542.72 L384.9,542.29 L385.9,541.86 L386.9,541.44 L387.9,541.04 L388.9,540.65 L389.9,540.27 L390.9,539.90 L391.9,539.55 L392.9,539.19 L393.9,538.86 L394.9,538.52 L395.9,538.20 L396.9,537.88 L397.9,537.57 L398.9,537.31 L399.9,537.01 L400.9,536.72 L401.9,536.43 L402.9,536.15 L403.9,535.87 L404.9,535.60 L405.9,535.34 L406.9,535.08 L407.9,534.82 L408.9,534.57 L409.9,534.33 L410.9,534.10 L411.9,533.87 L412.9,533.65 L413.9,533.45 L414.9,533.25 L415.9,533.06 L416.9,532.89 L417.9,532.72 L418.9,532.56 L419.9,532.40 L420.9,532.25 L421.9,532.10 L422.9,531.95 L423.9,531.81 L424.9,531.66 L425.9,531.52 L426.9,531.37 L427.9,531.23 L428.9,531.09 L429.9,530.94 L430.9,530.80 L431.9,530.65 L432.9,530.51 L433.9,530.36 L434.9,530.22 L435.9,530.07 L436.9,529.93 L437.9,529.79 L438.9,529.64 L439.9,529.50 L440.9,529.35 L441.9,529.21 L442.9,529.06 L443.9,528.92 L444.9,528.78 L445.9,528.63 L446.9,528.49 L447.9,528.34 L448.9,528.20 L449.9,528.05 L450.9,527.91 L451.9,527.76 L452.9,527.62 L453.9,527.48 L454.9,527.33 L455.9,527.19 L456.9,527.04 L457.9,526.90 L458.9,526.75 L459.9,526.61 L460.9,526.47 L461.9,526.32 L462.9,526.18 L463.9,526.03 L464.9,525.89 L465.9,525.74 L466.9,525.60 L467.9,525.46 L468.9,525.31 L469.9,525.17 L470.9,525.02 L471.9,524.88 L472.9,524.73 L473.9,524.59 L474.9,524.44 L475.9,524.30 L476.9,524.16 L477.9,524.01 L478.9,523.87 L479.9,523.72 L480.9,523.58 L481.9,523.43 L482.9,523.29 L483.9,523.15 L484.9,523.00 L485.9,522.86 L486.9,522.71 L487.9,522.57 L488.9,522.42 L489.9,522.28 L490.9,522.13 L491.9,521.99 L492.9,521.85 L493.9,521.70 L494.9,521.56 L495.9,521.41 L496.9,521.27 L497.9,521.12 L498.9,520.98 L499.9,520.84 L500.9,520.69 L501.9,520.55" fill="none" stroke="#BA2349" stroke-width="1.3" stroke-dasharray="4.0,2.6"/>
<line x1="349.70" y1="550.20" x2="349.70" y2="584.33" stroke="#222" stroke-width="1.1"/>
<line x1="347.50" y1="550.20" x2="351.90" y2="550.20" stroke="#222" stroke-width="1.1"/>
<line x1="347.50" y1="584.33" x2="351.90" y2="584.33" stroke="#222" stroke-width="1.1"/>
<circle cx="349.70" cy="570.43" r="1.7" fill="#B8002A"/>
<line x1="362.00" y1="530.12" x2="362.00" y2="569.40" stroke="#222" stroke-width="1.1"/>
<line x1="359.80" y1="530.12" x2="364.20" y2="530.12" stroke="#222" stroke-width="1.1"/>
<line x1="359.80" y1="569.40" x2="364.20" y2="569.40" stroke="#222" stroke-width="1.1"/>
<circle cx="362.00" cy="551.08" r="1.7" fill="#B8002A"/>
<line x1="374.20" y1="509.38" x2="374.20" y2="550.21" stroke="#222" stroke-width="1.1"/>
<line x1="372.00" y1="509.38" x2="376.40" y2="509.38" stroke="#222" stroke-width="1.1"/>
<line x1="372.00" y1="550.21" x2="376.40" y2="550.21" stroke="#222" stroke-width="1.1"/>
<circle cx="374.20" cy="529.17" r="1.7" fill="#B8002A"/>
<line x1="385.70" y1="508.37" x2="385.70" y2="548.50" stroke="#222" stroke-width="1.1"/>
<line x1="383.50" y1="508.37" x2="387.90" y2="508.37" stroke="#222" stroke-width="1.1"/>
<line x1="383.50" y1="548.50" x2="387.90" y2="548.50" stroke="#222" stroke-width="1.1"/>
<circle cx="385.70" cy="527.70" r="1.7" fill="#B8002A"/>
<text x="347.60" y="545.70" font-size="5.9" text-anchor="middle" font-weight="normal" fill="#2a2a2a" stroke="#2a2a2a" stroke-width="0.08">7/34</text>
<text x="374.00" y="504.60" font-size="5.9" text-anchor="middle" font-weight="normal" fill="#2a2a2a" stroke="#2a2a2a" stroke-width="0.08">19/34</text>
<text x="362.40" y="577.70" font-size="5.9" text-anchor="middle" font-weight="normal" fill="#2a2a2a" stroke="#2a2a2a" stroke-width="0.08">13/35</text>
<text x="385.50" y="577.70" font-size="5.9" text-anchor="middle" font-weight="normal" fill="#2a2a2a" stroke="#2a2a2a" stroke-width="0.08">20/35</text>
<text x="404.20" y="542.90" font-size="5.6" text-anchor="start" font-weight="normal" fill="#222" textLength="53.30" lengthAdjust="spacingAndGlyphs" stroke="#222" stroke-width="0.1">Range of each quartile</text>
<text x="404.20" y="549.60" font-size="5.6" text-anchor="start" font-weight="normal" fill="#222" stroke="#222" stroke-width="0.1">Q1: 0.37 - 1.24</text>
<text x="404.20" y="556.30" font-size="5.6" text-anchor="start" font-weight="normal" fill="#222" stroke="#222" stroke-width="0.1">Q2: 1.24 - 1.67</text>
<text x="404.20" y="563.00" font-size="5.6" text-anchor="start" font-weight="normal" fill="#222" stroke="#222" stroke-width="0.1">Q3: 1.69 - 2.08</text>
<text x="404.20" y="569.70" font-size="5.6" text-anchor="start" font-weight="normal" fill="#222" stroke="#222" stroke-width="0.1">Q4: 2.09 - 6.79</text>
<text x="404.20" y="583.10" font-size="5.6" text-anchor="start" font-weight="normal" fill="#222" stroke="#222" stroke-width="0.1">Odds ratio at doubling of dose [95% CI]</text>
<text x="404.20" y="589.80" font-size="5.6" text-anchor="start" font-weight="normal" fill="#222" stroke="#222" stroke-width="0.1">2.874 [1.508, 5.478]</text>
<circle cx="317.00" cy="634.60" r="1.4" fill="none" stroke="#BF0C38" stroke-width="0.9"/>
<text x="322.00" y="637.40" font-size="7.8" text-anchor="start" font-weight="normal" fill="#111" textLength="49.60" lengthAdjust="spacingAndGlyphs" stroke="#111" stroke-width="0.2">Observed data</text>
<circle cx="317.00" cy="646.50" r="1.6" fill="#B8002A"/>
<text x="322.00" y="649.30" font-size="7.8" text-anchor="start" font-weight="normal" fill="#111" textLength="102.30" lengthAdjust="spacingAndGlyphs" stroke="#111" stroke-width="0.2">Observed proportion (95% CI)</text>
<line x1="427.70" y1="634.70" x2="446.00" y2="634.70" stroke="#BA2349" stroke-width="1.3"/>
<text x="449.80" y="637.50" font-size="7.8" text-anchor="start" font-weight="normal" fill="#111" textLength="62.80" lengthAdjust="spacingAndGlyphs" stroke="#111" stroke-width="0.2">Logistic regression</text>
<text x="152.00" y="18.20" font-size="10.2" text-anchor="start" font-weight="normal" fill="#111" textLength="261.60" lengthAdjust="spacingAndGlyphs" stroke="#111" stroke-width="0.2">Logistic regression of BOR and CRS vs. dose for ALL ≤50kg</text>
<text x="151.50" y="237.60" font-size="10.2" text-anchor="start" font-weight="normal" fill="#111" textLength="262.00" lengthAdjust="spacingAndGlyphs" stroke="#111" stroke-width="0.2">Logistic regression of BOR and CRS vs. dose for ALL &gt;50kg</text>
<text x="165.40" y="458.70" font-size="10.2" text-anchor="start" font-weight="normal" fill="#111" textLength="235.10" lengthAdjust="spacingAndGlyphs" stroke="#111" stroke-width="0.2">Logistic regression of BOR and CRS vs. dose for NHL</text>
<rect x="0.5" y="0.5" width="518.8" height="657.6" fill="none" stroke="#000" stroke-width="1.3"/>
</svg></div></body></html>
